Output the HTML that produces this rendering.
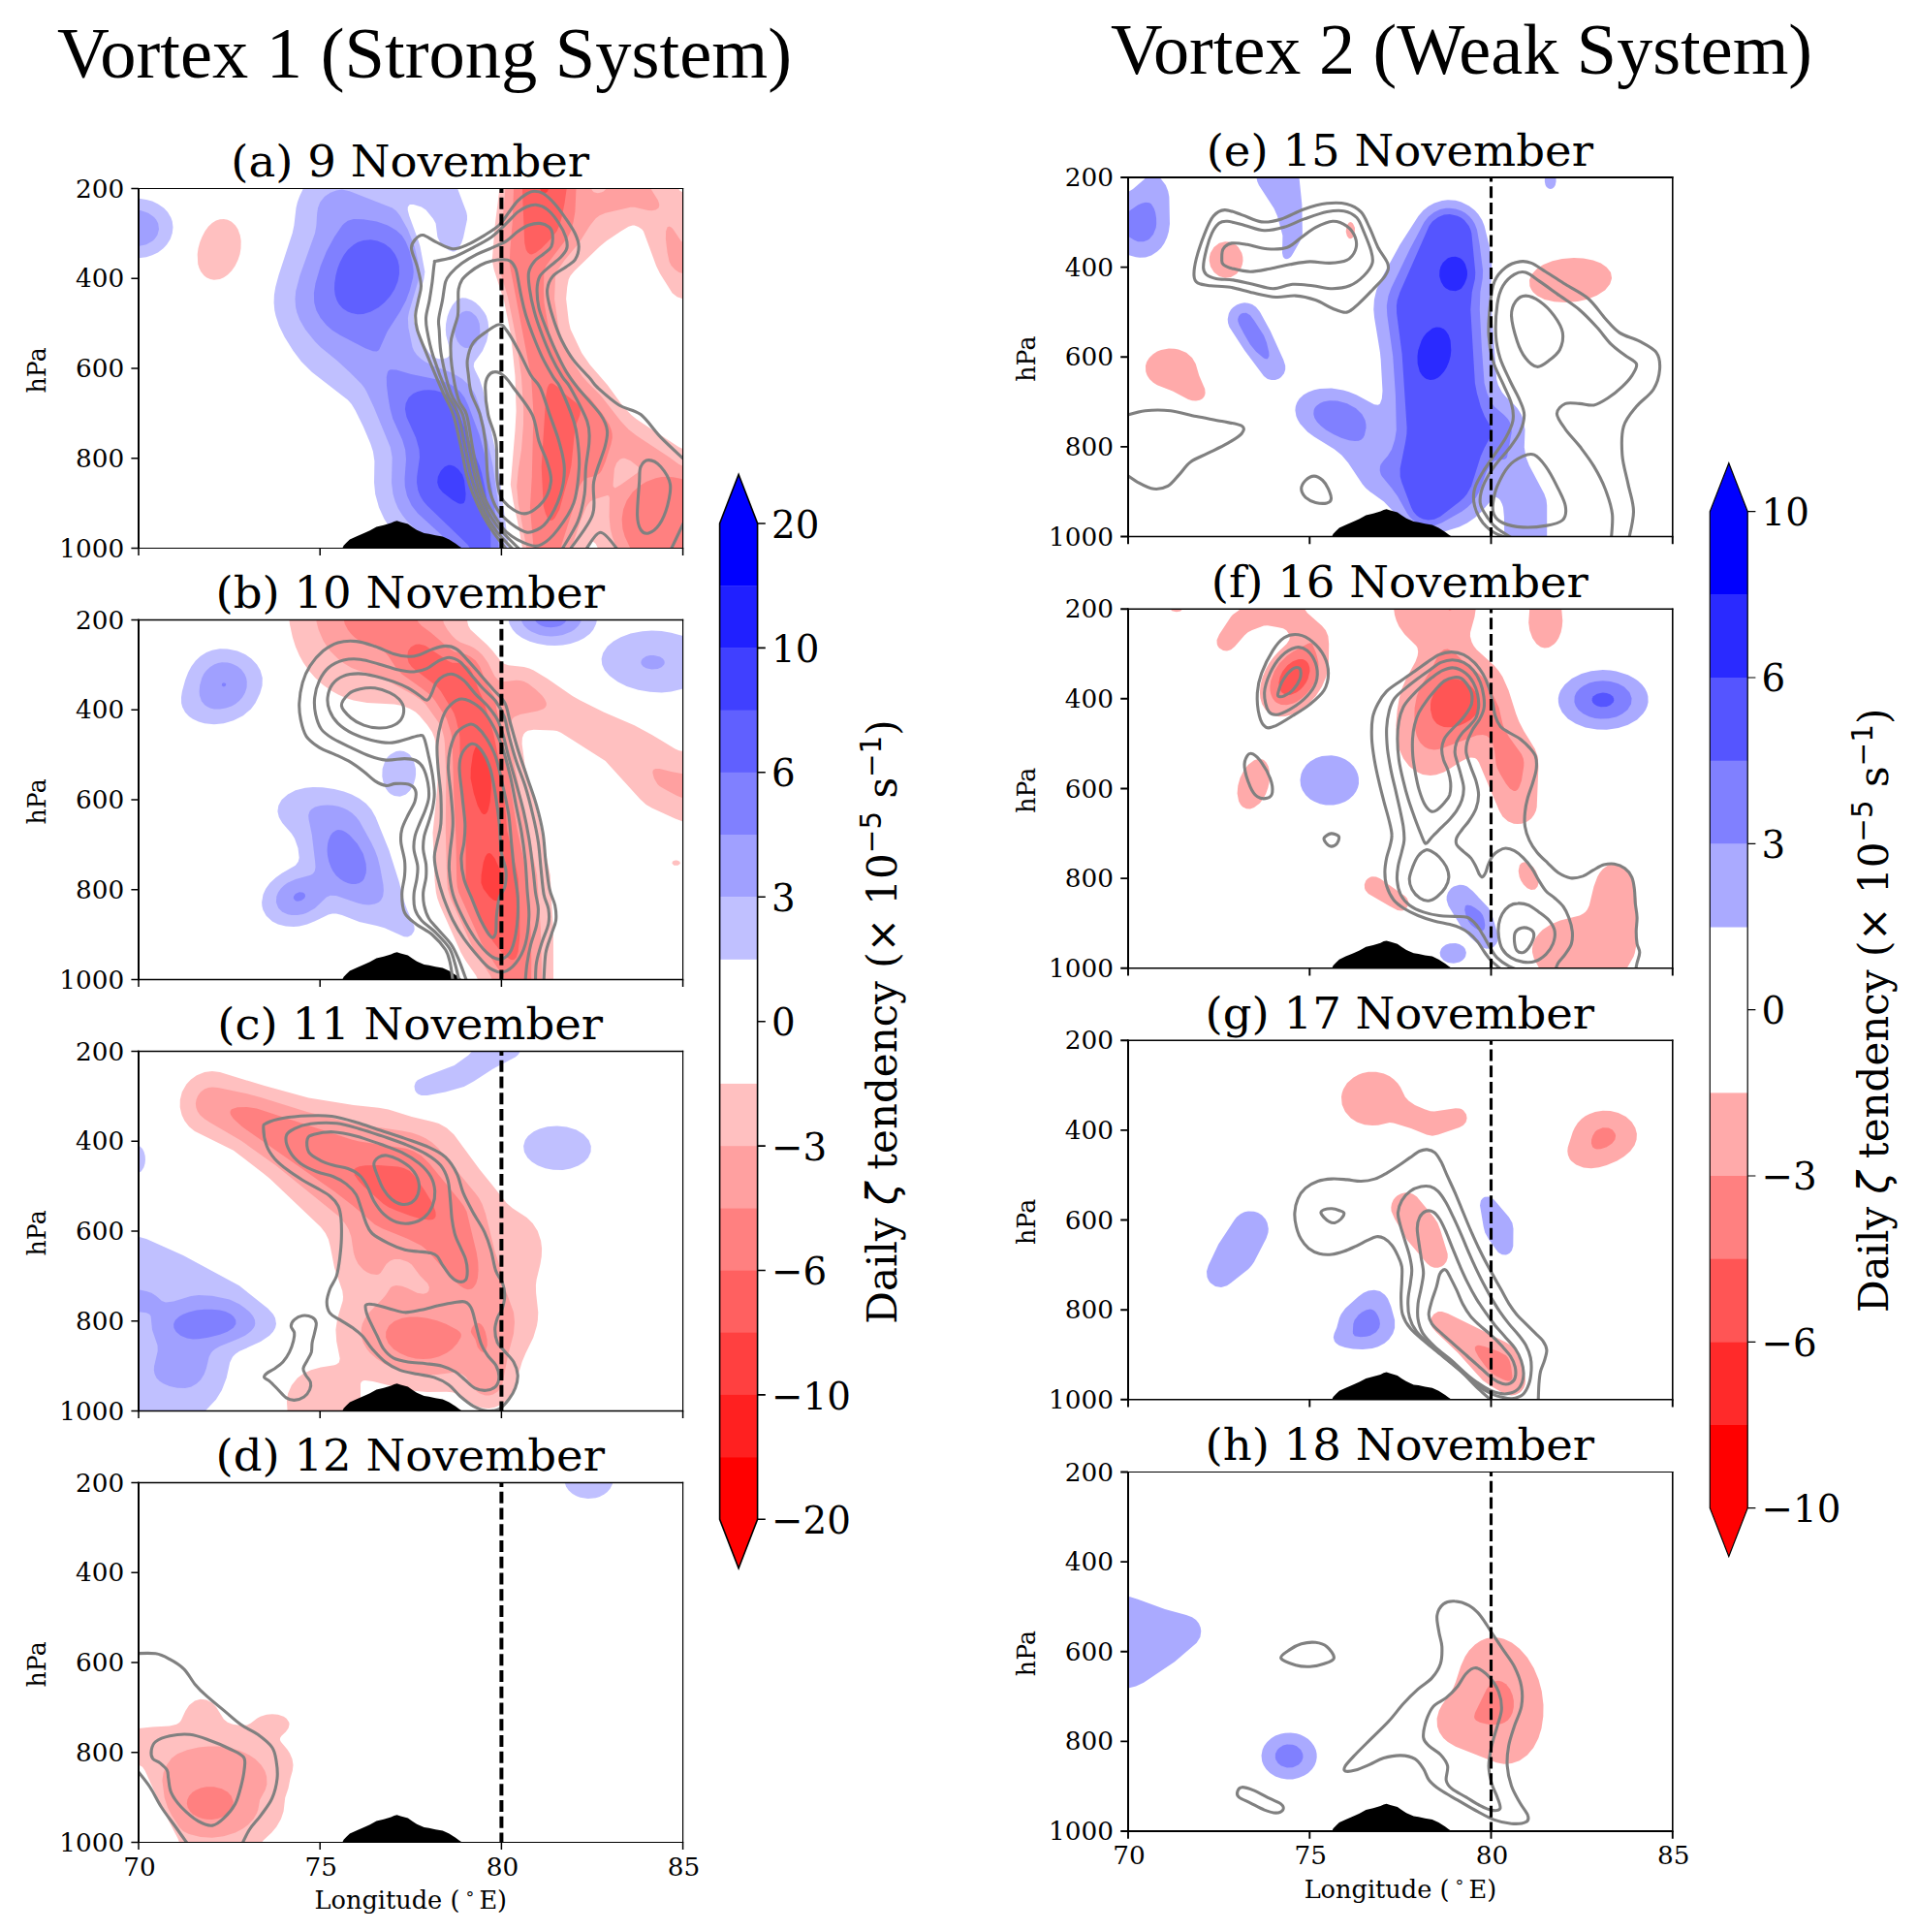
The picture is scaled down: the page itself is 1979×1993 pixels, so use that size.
<!DOCTYPE html>
<html lang="en"><head><meta charset="utf-8"><title>Vortex zeta tendency</title>
<style>html,body{margin:0;padding:0;background:#fff}svg{display:block}.ts{font-family:'DejaVu Serif','Liberation Serif',serif}.tn{font-family:'DejaVu Sans','Liberation Sans',sans-serif}.tt{font-family:'Liberation Serif','DejaVu Serif',serif}</style></head><body>
<svg width="1979" height="1993" viewBox="0 0 1979 1993">
<rect width="1979" height="1993" fill="#fff"/>
<text class="tt" x="438" y="80.1" font-size="74.5" text-anchor="middle">Vortex 1 (Strong System)</text>
<text class="tt" x="1508" y="76.3" font-size="74.2" text-anchor="middle">Vortex 2 (Weak System)</text>
<g id="pa">
<clipPath id="ca"><rect x="143" y="194.5" width="561.6" height="371"/></clipPath>
<g clip-path="url(#ca)">
<path d="M312.9 194.5L472.1 194.5L481.2 218.4L482 222.4L482 226.4L478.2 244.4L476.4 250.3L472.8 256.7L470.8 258.6L468.8 259.4L466.8 259.4L462.8 257.9L457.8 254.3L454.1 250.3L451.4 244.4L449.6 230.4L446.8 225.5L439.4 216.4L434.8 213.6L426.8 211.1L422.8 211.1L420.8 213.4L420.7 216.4L422.2 222.4L431.8 248.4L433.5 254.3L438.4 280.3L437.3 288.2L427.6 322.2L426.9 326.1L427 330.1L428.4 336.1L432.8 346.2L437.7 356.1L442.8 363.9L444.8 366.2L448.8 369L452.8 370.2L456.8 370.3L460.8 369.2L462.7 368L464.2 366L464.5 362L460.3 346.1L459.8 340.1L460.1 334.1L461.7 326.1L463.9 320.2L466.8 314.8L470.8 309.9L472.8 308.4L476.8 307.3L480.8 307.6L486.8 309.8L490.8 312.3L495.1 316.2L499.8 322.2L501.9 326.1L503.6 332.1L504.2 338.1L503.9 344.1L502.2 352.1L497.9 362L489.3 374L488.7 378L490.2 382L494.7 390.9L498.4 401.9L511.7 467.8L514.1 481.7L525 565.5L423.9 565.5L422.5 563.5L412.8 555.6L406.8 549.7L401.8 543.6L396.5 535.6L391 523.6L387.2 509.7L386 497.7L386.4 475.7L384.9 465.8L382.3 457.8L374.8 439.9L366.8 423.7L362.8 416.9L358.8 412.6L322 384L310.9 372.9L302.6 362L293.8 348.1L287.9 336.1L284.6 326.1L283.3 320.2L282.6 312.2L282.9 304.2L284.2 296.2L287.4 284.3L301.7 240.4L303.4 232.4L305.5 214.4L306.9 208.5L309.1 202.5ZM145 204.9L151 205.9L157 207.6L163.1 210.5L169 214.6L173 218.7L176.4 224.4L177.8 228.4L178.5 234.4L177.8 240.4L175.8 246.4L172.2 252.3L168.5 256.3L163 260.4L157 263.3L151 265.2L143 266.2L143 204.8Z" fill="#c0c0ff"/>
<path d="M346.9 196.5L352.9 195.5L360.8 197.2L404.8 214.5L408.8 217.6L412.8 222.5L420.8 236.8L427.7 254.3L431 268.3L432.9 280.3L432.7 284.3L431.4 290.2L421.9 322.2L420.9 328.1L421.4 338.1L425.5 358.1L427.2 362L430 366L434.2 370L438.8 373.3L446.8 377.3L466.8 384.7L476.8 390.7L484.8 398.3L488.6 403.9L490.7 407.9L494.7 419.2L498.7 433.7L508.8 481.7L515.5 529.6L519.7 565.5L451.4 565.5L448.2 561.5L426.2 543.6L420 537.6L415.2 531.6L410.8 524.4L407.8 517.6L405.5 509.7L404 497.7L404.7 471.8L402.8 461.6L385.7 419.9L378.2 403.9L375.9 399.9L372.8 396.1L360.8 384L347.8 372L330.9 358.2L324.9 352.3L315.1 340.1L309.3 330.1L306.3 322.2L305 316.2L304.5 308.2L305.2 300.2L309.4 284.3L325 240.4L326.4 232.4L327.1 220.4L328 214.4L330.3 208.5L334.9 202.7L340.9 198.7ZM145 217.1L153 219.7L159 223.9L161.1 226.4L163.2 230.4L164 236.4L162.4 242.4L159.6 246.4L157.6 248.4L151 252.3L143 254.1L143 216.9ZM476.8 322.1L480.8 320.8L484.8 321.3L486.8 322.2L491.1 326.1L493.4 330.1L494.8 334.1L495.4 342.1L493.6 350.1L491.4 354.1L489.6 356.1L484.8 358.8L480.8 359L478.8 358.5L475 356.1L472 352.1L469.6 346.1L468.8 338.1L469.8 332.1L472.8 325.8Z" fill="#a0a0ff"/>
<path d="M364.8 226.1L374.8 226.2L388.8 228.6L400.1 232.4L408.8 237.4L414.8 243.1L418.8 249.4L422.8 259.4L425.8 272.3L426.8 280.3L426.2 286.3L422.8 299.4L418.8 310.2L412.8 321.6L399.6 342.1L391.6 360.1L390.8 361.2L388.8 362.5L384.8 362.3L376.8 359.2L350.9 345.7L342.9 340.7L336.9 335.4L330.7 328.1L326.4 320.2L324.2 312.2L323.9 302.2L325.5 292.2L330.8 274.3L336.9 259.3L344.9 244.5L352.9 232.7L355.1 230.4L358.8 227.8ZM402.8 381.2L408.8 381.6L424.2 386L448.8 390.9L458.8 393.8L464.8 396.6L470.8 400.5L474.8 404.1L479.3 409.9L483.1 417.9L494.7 448.8L502.7 478.3L507.5 503.7L510.9 529.6L514.7 565.5L468.4 565.5L467.4 563.5L462.8 558.6L431 529.6L424.7 521.6L420 511.6L417.8 501.7L417.5 493.7L419 473.7L418.1 463.8L415.1 453.8L405.3 431.9L402.6 421.9L400.5 409.9L399 398L398.8 389.1L399.9 384L400.8 382.4Z" fill="#8080ff"/>
<path d="M374.8 248L382.8 247.3L389.4 248.4L396.8 251.5L402.8 256.1L407.6 262.3L410.4 268.3L411.8 274.3L412 282.3L410.5 290.2L407.2 298.2L402.8 305.2L396.8 311.9L390.8 316.9L382.8 321.5L374.8 323.9L368.8 324.2L362.8 323.1L358.8 321.6L353.7 318.2L350.1 314.2L347.7 310.2L345.7 304.2L345 298.2L345.2 292.2L346.4 284.3L348.5 276.3L350.9 270.3L354.8 263L358.8 257.8L364.8 252.5L368.8 250.1ZM430.8 403.9L436.8 402.5L442.8 402.2L448.8 402.8L454.8 404.4L460.8 407.3L464.3 409.9L468.1 413.9L470.8 418.1L481.5 447.8L494.5 479.7L497 487.7L500.7 505L504.9 529.6L506.3 551.5L506.2 565.5L485 565.5L482.2 561.5L440.7 521.6L436.8 517.1L433.5 511.6L431.3 505.7L430 497.7L430.2 491.7L433 471.8L432.5 463.8L429.2 451.8L419.4 429.9L417.9 421.9L418.7 415.9L421.8 409.9L426.3 405.9Z" fill="#6060ff"/>
<path d="M458.8 481.5L462.8 479.8L464.8 479.8L468.8 481.1L472.8 484L477.2 489.7L479.1 495.7L480.6 509.7L480.1 515.6L478.8 518.7L477.3 519.6L474.8 519.8L472.8 519.2L466.8 515.8L456.8 507.9L452.8 502.9L451.2 497.7L451.8 491.7L454.8 485.8Z" fill="#4040ff"/>
<path d="M516.7 194.5L700 194.5L701.3 196.5L704.6 198.6L704.6 308.2L698.6 306.3L693.6 302.2L681 282.3L677.1 274.3L663.9 238.4L662.3 236.4L658.6 233.9L654.6 232.5L652.6 232.4L648.6 233.8L640.7 238.4L625.8 248.4L618.8 254.3L592.7 279.5L588.7 284.3L586.7 288.2L585.2 296.2L584.1 308.2L586.9 332.1L588.7 339.8L600.2 364L608.7 376.2L626.7 396.9L642.6 418.7L651.3 427.9L656.6 432.3L664.7 437.8L700.6 461.3L704.6 463.1L704.6 565.5L616.9 565.5L614.7 561L612.7 559.2L610.7 558.8L608.7 559.5L606.7 561.6L604.9 565.5L539 565.5L534.7 541.6L529.6 517.6L526.8 499.7L531.5 443.8L532.6 423.9L531.5 388L528.7 360.4L526.8 344.1L520 310.2L509.7 278.3L507.8 268.3L510.7 232.4L515.4 194.5ZM226.9 226.3L230.9 226L234.9 226.7L238.9 228.7L242.9 232.4L245.5 236.4L247.7 242.4L248.7 248.4L248.5 256.3L247.5 262.3L245.5 268.3L242.6 274.3L238.9 279.6L234.9 283.6L230.9 286.3L226.9 288L220.9 288.8L216.9 288.1L213 286.2L210.5 284.3L207.3 280.3L205.4 276.3L204.2 272.3L203.7 262.3L204.5 256.3L206.1 250.3L208.4 244.4L211.5 238.4L214.9 233.8L218.9 230L222.9 227.6Z" fill="#ffc0c0"/>
<path d="M522.7 194.5L610.2 194.5L611.1 196.5L612.7 198.2L616.7 199.3L620.3 198.5L622.7 197.4L625.7 194.5L671.8 194.5L672.6 196.5L678.9 206.5L680.2 210.5L680.2 212.5L679.5 214.4L676.6 216.6L672.6 217.2L668.6 216.9L654.6 213.8L650.6 213.8L624.7 219.7L618.7 222.3L614.7 225.3L608.7 232.8L597.7 250.3L582.7 268.3L574.7 279.5L573.7 282.3L573 286.3L572.1 308.2L576 336.1L578 344.1L590.2 372L600.7 388L605.9 394L619.9 407.9L640.6 434.5L648.6 443L656.6 449.2L690.7 471.8L700.6 478.9L704.6 480.7L704.6 565.5L636.1 565.5L631.8 553.5L629.8 545.6L628.6 533.6L628.9 513.6L628.2 511.6L626.7 511.1L612.7 515.2L608.9 517.6L606.7 520.2L604.7 523.6L598.7 538.4L591.6 559.5L590.2 565.5L543.3 565.5L534.8 519.6L533.2 501.7L534.7 485.3L538 463.8L540 437.8L540.1 421.9L537.9 388L532.3 348.1L529.6 334.1L523.9 306.2L516.7 281.9L514.6 270.3L521.4 194.5ZM639.8 473.7L636.1 477.7L633.9 483.7L632.6 499.7L632.7 501.8L634.6 503.4L640.6 500L657.7 487.7L659.5 485.7L659.9 483.7L658.8 481.7L650.6 475.2L644.6 472.8L642.6 472.7ZM688.6 234.2L690.6 233.5L692.6 234.4L694.6 236.4L702.6 248.4L704.6 250.1L704.6 282.1L700.6 281L696.6 278.3L692.6 273.9L690.6 269.9L688.5 260.3L686.9 246.4L687.1 238.4Z" fill="#ffa0a0"/>
<path d="M530.7 194.5L594.5 194.5L593.4 218.4L591.7 228.4L589.1 238.4L586 244.4L566.3 270.3L563.5 274.3L561.8 278.3L561.3 282.3L561 300.2L561.5 312.2L567 344.1L580.8 378L586.8 388L592.6 396L596.7 400.4L608.7 410.7L621 425.9L628.5 437.8L630.9 443.8L631.7 447.8L631.8 451.8L630.6 457.8L624.7 476.2L620.7 485.6L618.7 488.2L614.7 491L606.7 492.8L602.7 494.8L600.7 496.9L597.9 501.7L594.7 510.7L590.4 527.6L579.6 561.5L578.8 565.5L550.5 565.5L546.9 523.6L548.8 491.7L550.4 425.9L548.2 390L525.7 272.3L526.3 258.3L528.8 228.4L530 194.5ZM676.6 493.2L682.6 492.1L688.6 491.8L694.6 492.3L704.6 494.2L704.6 565.5L650.3 565.5L644.7 553.5L642.4 545.6L641.6 535.6L643.1 525.6L646.6 516.5L652.6 507.8L659.2 501.7L666.6 497Z" fill="#ff8080"/>
<path d="M540.7 194.5L584.7 194.5L582.7 208.7L580 222.4L577.3 232.4L574.7 238.2L568.7 245.9L558.7 256.2L552.7 260.8L548.7 262.4L546.7 262.2L544.3 260.3L542.7 257.4L541.2 250.3L539.1 200.5L539.1 194.5ZM568.7 395.3L570.7 395.7L574.7 398.4L584.8 407.9L595 415.9L598 419.9L599 423.9L598.4 427.9L594.7 437.6L593.2 443.8L589.5 479.7L587.9 487.7L577.3 525.6L572.7 534.1L570.7 536.2L568.7 537.1L566.7 536.4L564.7 533.9L562.7 529.3L560.7 521.9L558.7 481.7L563.3 407.9L564.7 399.9L566.7 396.3Z" fill="#ff6060"/>
<path d="M558.7 194.5L566.3 194.5L564.7 197.7L562.7 199.2L560.7 199.4L558.7 198L557.9 196.5L557.2 194.5Z" fill="#ff4040"/>
<path d="M353.3 565.5L354.6 562.8L357.5 559.8L360.9 556.5L367.5 553.4L375 550.2L381.7 547.3L388.4 543.6L395.9 541.7L403.4 539.6L406.7 537.9L409.6 537.3L413.4 538.4L420.9 540.6L425.1 543.6L430.1 546.7L437.6 550.1L442.6 550.7L449.3 552.3L456.8 553.4L463.4 556.5L470.1 560.7L473.4 563.2L476.8 565.5" fill="#000"/>
<path d="M522.9 567.2C520.6 564.2 513.2 555.2 509.1 549.2C504.9 543.2 501.5 537.7 498 531.3C494.6 524.8 491.1 517.4 488.4 510.5C485.6 503.6 483.5 497.9 481.4 489.8C479.4 481.7 478.2 472.5 475.9 462.2C473.6 451.8 470.7 437.1 467.6 427.6C464.6 418.2 461.8 415.7 457.4 405.6C453 395.6 445.6 378.2 441.2 367.3C436.7 356.5 432.7 347.5 430.6 340.5C428.6 333.5 428.6 330.3 428.7 325.2C428.9 320.1 430.6 315 431.6 309.9C432.5 304.8 434.6 300.3 434.5 294.6C434.3 288.8 432.3 281.8 430.6 275.4C429 269 424.8 261.1 424.5 256.3C424.2 251.5 426.7 249 428.7 246.7C430.7 244.4 432.9 242 436.4 242.5C439.9 243 444.7 247.2 449.8 249.6C454.9 251.9 461.6 256.2 467 256.7C472.4 257.1 476.9 254.7 482.3 252.4C487.8 250.1 494.1 246.2 499.6 242.9C505 239.5 510.7 236.2 514.9 232.3C519 228.5 521.3 224 524.4 219.9C527.6 215.7 530.8 210.8 534 207.4C537.2 204.1 540.7 201.5 543.6 199.8C546.5 198.1 548.4 197.3 551.3 197.3C554.1 197.3 557.3 197.6 560.8 199.8C564.3 202 568.5 206 572.3 210.3C576.1 214.6 580.3 220.5 583.8 225.6C587.3 230.7 591.1 236.2 593.4 241C595.6 245.7 597.2 249.9 597.2 254.4C597.2 258.8 595.6 264.2 593.4 267.8C591.1 271.3 587.6 272.5 583.8 275.4C580 278.3 573.6 281.2 570.4 285C567.2 288.8 565.3 293.6 564.7 298.4C564 303.2 565.3 308 566.6 313.7C567.8 319.4 570.1 326.5 572.3 332.9C574.5 339.2 576.8 345.6 580 352C583.2 358.4 586.7 364.8 591.5 371.1C596.2 377.5 604.5 385.5 608.7 390.3C612.9 395.1 611.8 395.4 616.8 400C621.9 404.6 631.6 413.4 638.9 418C646.3 422.6 653.9 422.1 661.1 427.6C668.2 433.2 674.2 443.3 681.8 451.1C689.4 458.9 702.5 470.7 706.6 474.6" fill="none" stroke="#808080" stroke-width="3.1" stroke-linejoin="round"/>
<path d="M529.8 567.2C527 564.2 517.8 555 513.2 549.2C508.6 543.5 505.5 538.6 502.2 532.6C498.8 526.6 496 520.4 493.2 513.3C490.4 506.2 487.8 498.3 485.6 489.8C483.4 481.3 482.3 472.5 480.1 462.2C477.9 451.8 475.6 437.1 472.5 427.6C469.3 418.2 465.5 415.7 461.3 405.6C457 395.6 450.4 378.2 446.9 367.3C443.5 356.5 441.8 347.2 440.6 340.5C439.4 333.8 439.2 332.2 439.6 327.1C440 322 442 315.9 443.1 309.9C444.1 303.8 445.1 297.1 446 290.7C446.8 284.3 447.5 275.2 448.2 271.6C449 268 447 270.3 450.2 269.3C453.3 268.3 461 267.6 467 265.5C473 263.3 479.5 259.8 486.2 256.3C492.9 252.8 501.2 248.7 507.2 244.4C513.3 240.1 518.1 234.7 522.5 230.4C527 226.2 530.5 221.8 534 218.9C537.5 216.1 540.4 214.5 543.6 213.2C546.8 211.9 549.7 210.8 553.2 211.3C556.7 211.8 560.8 213 564.7 216.1C568.5 219.1 573 224.7 576.1 229.5C579.3 234.2 582.4 240.3 583.8 244.8C585.2 249.2 585.7 252.8 584.8 256.3C583.8 259.8 581.1 262.6 578.1 265.8C575 269 570.1 272.2 566.6 275.4C563.1 278.6 559.1 281.2 557 285C554.9 288.8 554.3 293 554.1 298.4C554 303.8 554.6 311.2 556 317.5C557.5 323.9 560 329.7 562.7 336.7C565.5 343.7 568.8 352 572.3 359.7C575.8 367.3 579.8 375.9 583.8 382.6C587.8 389.4 590.2 392.5 596.1 400C602.1 407.5 614.5 420.3 619.6 427.6C624.7 435 625.8 438.5 626.5 444.2C627.2 450 626.1 453.4 623.8 462.2C621.4 470.9 614.8 485.2 612.7 496.7C610.6 508.2 615.5 519.5 611.3 531.3C607.2 543 591.7 561.2 587.8 567.2" fill="none" stroke="#808080" stroke-width="3.1" stroke-linejoin="round"/>
<path d="M536.7 567.2C533.5 563.9 522.4 553.6 517.4 547.8C512.3 542.1 509.8 538.4 506.3 532.6C502.9 526.9 499.4 520.4 496.6 513.3C493.9 506.2 491.8 498.3 489.7 489.8C487.7 481.3 486.3 472.5 484.2 462.2C482.1 451.8 480.5 437.1 477.3 427.6C474.1 418.2 468.7 415.7 465.1 405.6C461.5 395.6 457.5 378.2 455.5 367.3C453.5 356.5 453.7 346.9 453.2 340.5C452.7 334.1 452.1 334.1 452.7 329C453.2 323.9 455.3 316.3 456.5 309.9C457.7 303.5 458.3 295.4 459.7 290.7C461.2 286.1 462.3 285.3 465.1 282.1C467.9 278.9 472.1 274.9 476.6 271.6C481.1 268.3 486.8 265 491.9 262.4C497 259.8 502.1 258.2 507.2 255.9C512.3 253.6 518.1 251.4 522.5 248.6C527 245.8 530.2 241.7 534 239C537.9 236.3 541.7 233.8 545.5 232.3C549.3 230.9 553.5 230.1 557 230.4C560.5 230.7 564.4 232.5 566.6 234.2C568.7 236 569.6 237.6 570 241C570.4 244.3 570.4 250.8 568.9 254.4C567.3 257.9 563.8 259.5 560.8 262C557.9 264.6 553.8 266.5 551.3 269.7C548.7 272.9 546.3 276.4 545.5 281.2C544.7 285.9 545.5 291.7 546.5 298.4C547.4 305.1 549.2 313.7 551.3 321.4C553.3 329 556 336.7 558.9 344.3C561.8 352 565 360 568.5 367.3C572 374.7 576.6 382.9 580 388.4C583.3 393.8 584.2 392.3 588.5 400C592.8 407.7 602.6 425.3 605.8 434.5C609 443.8 608.1 447.2 607.9 455.3C607.6 463.3 605.2 473.7 604.4 482.9C603.6 492.1 604.4 501.3 603 510.5C601.6 519.7 600 528.7 596.1 538.2C592.2 547.6 582.3 562.3 579.5 567.2" fill="none" stroke="#808080" stroke-width="3.1" stroke-linejoin="round"/>
<path d="M481.4 427.6C483.9 436.1 485.7 451.8 487.7 462.2C489.6 472.5 491.1 481.3 493.2 489.8C495.3 498.3 497.3 506.4 500.1 513.3C502.9 520.2 506 525.3 509.8 531.3C513.6 537.2 517 544.1 522.9 549.2C528.8 554.3 539 559.6 545 561.6C551 563.7 553.8 564.2 558.8 561.6C563.9 559.1 569.9 553.6 575.4 546.4C580.9 539.3 588.3 529.4 592 518.8C595.7 508.2 596.8 493.5 597.5 482.9C598.2 472.3 597 463.3 596.1 455.3C595.2 447.2 595 443.8 592 434.5C589 425.3 581.8 407.7 578.2 400C574.6 392.3 573.6 393.8 570.4 388.4C567.2 382.9 562.4 374.7 558.9 367.3C555.4 360 552.1 351.4 549.3 344.3C546.6 337.3 544.6 331.6 542.6 325.2C540.7 318.8 539.1 311.8 537.9 306C536.6 300.3 535.9 295.5 535 290.7C534 285.9 533.5 280.9 532.1 277.3C530.7 273.8 528.6 270.9 526.4 269.3C524.1 267.7 521.9 267.8 518.7 267.8C515.5 267.8 511 268.3 507.2 269.3C503.4 270.2 499.6 271.5 495.7 273.5C491.9 275.5 487.4 278.6 484.2 281.2C481.1 283.7 478.4 285.9 476.6 288.8C474.7 291.7 473.8 294.9 473.1 298.4C472.5 301.9 472.9 305.4 472.8 309.9C472.6 314.3 473.2 320.1 472.4 325.2C471.6 330.3 469.2 335.7 468 340.5C466.8 345.3 465.4 347.8 465.1 353.9C464.8 360 464.8 367.3 466.1 376.9C467.3 386.5 470.2 402.9 472.8 411.4C475.3 419.8 479 419.2 481.4 427.6Z" fill="none" stroke="#808080" stroke-width="3.1" stroke-linejoin="round"/>
<path d="M495.3 427.6C497.7 435.9 499.4 443.8 500.8 455.3C502.2 466.8 502.2 486.3 503.6 496.7C504.9 507.1 506.8 511.7 509.1 517.4C511.4 523.2 512.8 526.4 517.4 531.3C522 536.1 531.4 543.6 536.7 546.4C542 549.3 544.5 549.9 549.1 548.5C553.8 547.1 559.5 544.5 564.3 538.2C569.2 531.8 575.2 519.7 578.2 510.5C581.2 501.3 582.5 492.1 582.3 482.9C582.1 473.7 579.3 464.5 576.8 455.3C574.2 446.1 570.3 436.8 567.1 427.6C563.9 418.4 560.7 406.9 557.4 400C554.2 393.1 551.3 393.2 547.4 386.5C543.5 379.7 538.2 367.3 534 359.7C529.9 352 525.7 344.7 522.5 340.5C519.3 336.4 518.4 334.4 514.9 334.8C511.4 335.1 505.9 339.2 501.5 342.4C497 345.6 491.3 349.1 488.1 353.9C484.9 358.7 483.1 365.7 482.3 371.1C481.5 376.6 482.6 380.7 483.3 386.5C483.9 392.2 484.2 398.7 486.2 405.6C488.2 412.5 492.8 419.4 495.3 427.6Z" fill="none" stroke="#808080" stroke-width="3.1" stroke-linejoin="round"/>
<path d="M503.6 427.6C505.4 436.8 510.2 443.8 511.8 455.3C513.5 466.8 511.8 486.3 513.2 496.7C514.6 507.1 515.5 511.9 520.1 517.4C524.7 523 534.2 529.9 540.9 529.9C547.5 529.9 555.6 523 560.2 517.4C564.8 511.9 567.8 503.6 568.5 496.7C569.2 489.8 566.4 482.9 564.3 476C562.3 469.1 558.6 463.3 556.1 455.3C553.5 447.2 553.5 436.8 549.1 427.6C544.8 418.4 534.6 406.5 529.8 400C525 393.5 523.7 391.1 520.6 388.4C517.5 385.6 513.9 383.6 511 383.6C508.2 383.6 505.1 385.6 503.4 388.4C501.7 391.1 500.7 393.5 500.7 400.1C500.7 406.6 501.7 418.4 503.6 427.6Z" fill="none" stroke="#808080" stroke-width="3.1" stroke-linejoin="round"/>
<path d="M669.3 474.6C672.8 474.6 678.1 477.4 681.8 481.5C685.5 485.7 690.3 492.8 691.5 499.5C692.6 506.2 690.5 514.7 688.7 521.6C686.8 528.5 683.6 536.2 680.4 540.9C677.2 545.6 672.6 549 669.3 549.9C666.1 550.8 663 549.6 661.1 546.4C659.1 543.3 657.8 539.5 657.6 531.3C657.4 523 659.1 505 659.7 496.7C660.2 488.4 659.4 485.2 661.1 481.5C662.7 477.8 665.9 474.6 669.3 474.6Z" fill="none" stroke="#808080" stroke-width="3.1" stroke-linejoin="round"/>
<path d="M604.4 567.2C606.9 564.2 614.1 549.2 619.6 549.2C625.1 549.2 634.6 564.2 637.6 567.2" fill="none" stroke="#808080" stroke-width="3.1" stroke-linejoin="round"/>
<path d="M706.6 536.8C704.2 541.8 694.6 562.1 692.1 567.2" fill="none" stroke="#808080" stroke-width="3.1" stroke-linejoin="round"/>
<path d="M517.4 194.5V565.5" stroke="#000" stroke-width="4.0" stroke-dasharray="12 4.75" stroke-dashoffset="7.6" fill="none"/>
</g>
<path d="M143 193.9V566.1" stroke="#000" stroke-width="2.0"/>
<path d="M704.6 193.9V566.1" stroke="#000" stroke-width="1.2"/>
<path d="M142 194.5H705.2" stroke="#000" stroke-width="1.2"/>
<path d="M142 565.5H705.2" stroke="#000" stroke-width="1.2"/>
<path d="M135.4 194.5h7.6M135.4 287.2h7.6M135.4 380h7.6M135.4 472.8h7.6M135.4 565.5h7.6M143 565.5v7.6M330.2 565.5v7.6M517.4 565.5v7.6M704.6 565.5v7.6" stroke="#000" stroke-width="1.5" fill="none"/>
<text class="ts" x="128.2" y="203.5" font-size="26.3" text-anchor="end">200</text>
<text class="ts" x="128.2" y="296.2" font-size="26.3" text-anchor="end">400</text>
<text class="ts" x="128.2" y="389" font-size="26.3" text-anchor="end">600</text>
<text class="ts" x="128.2" y="481.8" font-size="26.3" text-anchor="end">800</text>
<text class="ts" x="128.2" y="574.5" font-size="26.3" text-anchor="end">1000</text>
<text class="ts" font-size="25.3" text-anchor="middle" transform="translate(47 381.8) rotate(-90)">hPa</text>
<text class="ts" font-size="45.5" text-anchor="middle" transform="translate(423.2 182.1) scale(1.024 1)">(a) 9 November</text>
</g>
<g id="pb">
<clipPath id="cb"><rect x="143" y="639.5" width="561.6" height="371"/></clipPath>
<g clip-path="url(#cb)">
<path d="M524.7 639.5L615.9 639.5L615.1 643.5L612.2 649.5L608.7 653.7L602.7 658.3L596.7 661.3L588.7 664L580.7 665.5L572.7 666.1L564.7 665.7L554.7 664.1L546.7 661.8L538.7 658.1L532.7 653.8L528.9 649.5L525.5 643.5ZM662.6 651.3L672.6 650.6L682.6 651.1L692.6 652.8L704.6 656L704.6 710.6L692.6 713.4L682.6 714.4L670.6 713.8L658.6 711.7L646.6 707.9L637.3 703.3L629.1 697.3L623.9 691.4L621.2 685.4L620.6 679.4L622.2 673.4L626.7 666.8L633 661.4L640.6 657.2L650.6 653.6ZM226.9 669.2L234.9 669.4L244.9 671.6L252.9 675L259.4 679.4L265.1 685.4L268.6 691.4L270.8 699.3L270.6 707.3L268.3 715.3L263.5 725.3L258.9 731.4L250.9 738.2L240.9 743.3L230.9 746.2L220.9 747.2L211 746.2L205 744.6L199 741.8L195 739L191 734.7L188.1 729.3L187.1 725.3L187 719.3L187.9 713.3L191.2 701.3L194.2 693.4L197.4 687.4L201.9 681.4L207 676.8L213 673.1L218.9 670.7ZM408.8 774.9L412.8 774.4L416.8 774.9L420.8 776.9L422.8 778.5L426.8 784.5L429 793.1L429.1 799.1L428.5 803.1L426.8 808.8L424.8 812.8L422.8 815.7L418.8 819.4L412.8 821.7L406.8 821.1L402.9 819L400.7 817L397.8 813L396 809L394.3 801.1L394.6 793.1L397.3 785.1L399.9 781.1L402.8 778.2ZM314.9 812.7L322.9 811.9L332.9 812.2L344.9 814L354.8 816.6L362.8 819.6L370.8 823.7L377.8 829L383.1 835L387.6 843L401.4 876.9L411.5 908.8L417.3 930.7L420.2 938.7L427.3 954.7L427.7 958.6L427.3 960.6L424.7 964.6L420.8 966.4L416.8 966.3L396.8 957.2L388.8 954.9L370.8 951.1L352.9 944.1L346.9 942.4L342.9 942.4L338.9 943.4L324.9 950.3L316.9 953.5L308.9 955.4L302.9 955.9L294.9 955.5L286.9 953.4L280.9 950.4L274.7 944.7L271.4 938.7L270.4 934.7L270.1 930.7L271.5 922.7L274.2 916.8L278.6 910.8L284.9 904.9L290.9 900.8L304.8 892.8L307.8 888.8L308.7 884.8L307.5 874.9L304 864.9L300.9 860L291.3 848.9L287.8 843L286.4 837L287.3 831L290.6 825L296.9 819.4L304.9 815.3Z" fill="#c0c0ff"/>
<path d="M538.7 639.5L599.8 639.5L599.3 641.5L596.8 645.5L592.7 649.4L589.5 651.5L580.7 655L574.7 656.1L568.7 656.5L562.7 656.1L556.7 654.9L548.1 651.5L544.7 649.3L540.7 645.5L538.4 641.5L537.9 639.5ZM666.6 677.1L670.6 676.1L674.6 675.9L681 677.4L683.9 679.4L685.4 681.4L685.8 683.4L685.3 685.4L682.6 688.2L678.6 690L672.6 690.5L666.6 689.2L663.6 687.4L661.9 685.4L661.3 683.4L661.7 681.4L663 679.4ZM228.9 683.3L234.9 683.4L238.9 684.4L244.9 687.3L248.9 690.6L252.4 695.3L254.1 699.3L254.8 703.3L254.6 709.3L252.9 714.6L250.2 719.3L246.9 723L242.9 726.2L238.9 728.5L232.9 730.6L226.9 731.6L220.9 731.4L216.9 730.4L213 728.5L211 727.1L207.9 723.3L205.9 717.3L205.6 713.3L206.1 707.3L208.3 699.3L210.2 695.3L213.1 691.4L216.9 687.9L220.9 685.5L224.9 684ZM330.9 830.9L336.9 830.4L342.9 830.7L348.9 831.8L354.8 833.7L358.8 835.7L363.6 839L367.7 843L370.8 847.1L383 868.9L386.8 876.9L389.7 884.8L392.2 894.8L395.5 912.8L395.9 918.7L395.1 924.7L393 928.7L390.8 930.8L386.8 932.6L380.8 933.4L374.8 932.9L368.8 931.5L346.9 924L340.9 923.7L336.9 925.6L324.9 936.9L316.9 941.5L312.9 943L306.9 944.1L300.9 944L296.9 943.2L291.3 940.7L287.2 936.7L284.9 930.7L285.3 924.7L286.9 920.7L289.6 916.8L292.9 913.4L296.6 910.8L304.9 906.9L320.3 902.8L322.9 901.3L324.7 898.8L325.5 894.8L325.1 888.8L321.8 860.9L318.5 844.9L318.2 841L319.5 837L321.2 835L324.9 832.6Z" fill="#a0a0ff"/>
<path d="M552.7 639.5L584.7 639.5L582.7 642.5L578.7 645.2L574.7 646.5L568.7 647.3L562.7 646.7L558.7 645.5L555.2 643.5L553.1 641.5L552.1 639.5ZM230.9 704.2L233.2 705.3L233.1 707.3L230.9 708.5L228.8 707.3L229 705.3ZM346.9 856.5L348.9 856.1L352.9 856.5L356.8 858.4L360.8 861.4L368.8 870.4L374.8 880.8L377.6 890.8L378 896.8L377.7 900.8L375.6 906.8L374.1 908.8L370.8 911.1L366.8 912.1L362.8 911.9L358.8 911L354.8 909.3L350.9 906.8L346.9 903.2L343.6 898.8L341.5 894.8L339.3 888.8L338 882.8L337.5 876.9L338 870.9L338.9 866.9L340.9 862L343.1 858.9ZM308.9 920.3L313 920.7L314.9 922.7L314.9 925.1L314 926.7L310.9 929.1L306.9 929.8L304.9 929.2L302.9 927L302.9 924.7L304.9 922.1Z" fill="#8080ff"/>
<path d="M298.9 639.5L481.9 639.5L483.2 645.5L485.5 649.5L502.7 665.2L508.4 671.4L516.7 681.9L520.7 685L524.7 686.3L540.7 687.9L546.1 689.4L550.6 691.4L564.7 700L590.7 717.9L598.7 722.5L622.7 734.4L654.6 748.2L672.6 757.9L696.6 772.5L700.6 774.3L704.6 775.1L704.6 847.5L696.6 844.5L672.6 833.4L666.6 829.9L660.6 824.6L624.7 784.9L578.7 755.7L574.7 754.1L570.7 753.5L550.7 752.7L544.7 753.8L542.2 755.2L540.4 757.2L538.9 761.2L538.6 767.2L541.5 789.1L556.4 846.9L567.7 902.8L570.9 960.6L571 1010.5L493 1010.5L491.2 1006.5L480.1 990.6L475.5 982.6L454.2 934.7L451.3 926.7L449.9 920.7L448.6 908.8L446.5 858.9L451 815L451.9 797.1L449.6 767.2L448.3 761.2L445.9 755.2L440.8 747.7L432.8 738.2L428.8 734.5L422.8 731.1L414.8 728.1L406.8 726.5L378.8 725.1L364.8 722.6L356.8 720L348.9 716.4L340.9 711.9L332.9 706.2L325.3 699.3L318.9 692L312.9 683.5L308.9 676.3L304.9 666.9L301.9 657.5L298.9 643.7L298.4 639.5ZM694.6 888.3L696.6 887.6L698.6 887.6L701.3 888.8L702 890.8L699.4 892.8L695.5 892.8L693.4 890.8L693.9 888.8Z" fill="#ffc0c0"/>
<path d="M326.9 639.5L457 639.5L458.2 643.5L461.6 649.5L466.3 655.5L470.3 659.4L474.8 662.6L484.8 666.3L488.8 668.3L493.3 671.4L497.6 675.4L503.4 683.4L510.3 697.3L513.9 701.3L516.7 702.8L518.7 703.2L532.7 701.8L536.7 702L540.7 703L545.1 705.3L552.8 711.3L559.1 717.3L562.1 721.3L563.8 725.3L563.8 727.3L563 729.3L560.8 731.3L554.7 733.6L536.7 736.9L530.7 739.5L528.7 741.5L527.1 745.2L526.3 753.2L527.2 765.2L531.7 793.1L554.1 902.8L557.9 958.6L559.4 1010.5L507.7 1010.5L506 1006.5L488.1 978.6L464.7 926.7L461.9 916.8L461.1 906.8L459.8 856.9L460.3 801.1L458.9 767.2L458.3 761.2L456.8 755.5L454.8 749.6L452.5 745.2L438.8 726L434.8 722.5L426.8 717.1L394.8 699.5L386.8 696.5L370.8 692.1L362.8 688.9L354.8 684.3L348.9 679.8L340.6 671.4L333.8 661.4L328.6 649.5L326.6 641.5L326.4 639.5ZM676.6 792.9L680.6 793L692.6 796L704.6 798.2L704.6 823.2L698.8 821L687.4 815L680.6 811L678.5 809L674.9 803.1L673.3 797.1L673.7 795.1L674.6 793.8Z" fill="#ffa0a0"/>
<path d="M354.8 639.5L430.6 639.5L431.4 641.5L435 645.5L444.8 652.8L462.8 668.3L468.8 672.2L480.8 675.1L485.6 677.4L490.8 681.4L495 687.4L503 707.3L509.3 717.3L510.9 721.3L512.3 731.3L516.7 751.2L524.6 797.1L533.5 854.9L543.8 902.8L547.6 960.6L548.3 990.6L548.2 1010.5L520.6 1010.5L518.8 1006.5L500.7 979.5L496.7 972.7L473.3 920.7L471.8 914.8L471.2 908.8L470.3 860.9L468.2 819L466.6 763.2L465.2 755.2L460.7 741.2L449.2 723.3L444.4 717.3L434.8 709.7L414.4 695.3L409 689.4L400.8 677L396.8 672.5L390.8 668.9L374.8 663.3L370.8 661.1L365.9 657.5L361.9 653.5L358.8 649.4L355.7 643.5Z" fill="#ff8080"/>
<path d="M428.8 664.8L432.8 664.4L438.8 665.9L462.8 681.9L466.8 683.7L474.8 684.1L478.8 685.1L482.6 687.4L484.6 689.4L487 693.4L494.6 713.3L498.4 721.3L506.7 747.5L509.3 757.2L517.4 797.1L520.4 823L523.3 856.9L532.9 896.8L534.8 906.8L536.3 940.7L536.3 966.6L534.7 981.7L532.7 987.5L530.7 989.7L528.7 990.2L526.7 989.8L522.7 987.3L516.7 981.4L508.7 971.2L504.7 964.5L494.7 944.9L484.8 924L481.9 916.8L481 912.8L480.6 906.8L480.6 860.9L476.9 829L474.6 803.1L474.5 761.2L473.7 755.2L470.3 741.2L468.2 735.2L454.8 713.1L451.6 709.3L446.8 705L426.6 689.4L424.4 687.4L421.6 683.4L420.1 677.4L421.1 671.4L423.9 667.4Z" fill="#ff6060"/>
<path d="M492.8 769.1L494.7 769.7L496.7 771.8L498.7 775.2L502.7 785.1L506.7 799.3L506.9 813L505.7 827L503.9 835L502.7 837.9L500.7 840L498.7 839.9L496.7 838.3L492.8 830.9L488.8 818.2L485.6 803.1L485.8 793.1L487.8 779.1L488.8 775.2L490.5 771.1ZM502.7 880.7L504.7 879.9L506.7 880.7L510.7 885.7L516.7 898.9L519.2 906.8L519.1 914.8L517.4 922.7L514.7 928.1L512.7 929.2L510.7 929.1L508.7 928.2L504.7 924.7L498.7 916.8L496.4 910.8L496.6 902.8L498.7 889.8L500.7 883.7Z" fill="#ff4040"/>
<path d="M353.3 1010.5L354.6 1007.8L357.5 1004.8L360.9 1001.5L367.5 998.4L375 995.2L381.7 992.3L388.4 988.6L395.9 986.7L403.4 984.6L406.7 982.9L409.6 982.3L413.4 983.4L420.9 985.6L425.1 988.6L430.1 991.7L437.6 995.1L442.6 995.7L449.3 997.3L456.8 998.4L463.4 1001.5L470.1 1005.7L473.4 1008.2L476.8 1010.5" fill="#000"/>
<path d="M467.3 1012.3C466.8 1009.2 465.7 998.6 464.4 993.2C463.2 987.8 462.7 984.6 459.7 979.8C456.6 975 451.4 969 446.3 964.5C441.1 960 433.8 956.8 429 953C424.2 949.2 419.9 946.6 417.5 941.5C415.1 936.4 414.7 928.7 414.7 922.4C414.7 916 417.1 909 417.5 903.2C418 897.5 418.2 893.6 417.5 887.9C416.9 882.2 414.2 874.2 413.7 868.8C413.2 863.3 413.4 860.1 414.7 855.4C415.9 850.6 419.1 844.8 421.4 840C423.6 835.2 426.9 830.8 428.1 826.6C429.3 822.5 429.8 818.1 428.6 815.1C427.5 812.2 424.8 810.1 421.4 809C417.9 807.9 411.8 808.2 408 808.4C404.1 808.7 401.9 810.8 398.4 810.4C394.9 809.9 390.7 808 386.9 805.6C383.1 803.2 379.6 799.2 375.4 796C371.3 792.8 366.8 789.3 362 786.4C357.2 783.6 352.1 781.3 346.7 778.8C341.3 776.2 334.6 774.3 329.5 771.1C324.4 767.9 319.3 764.4 316.1 759.6C312.9 754.8 311.5 748.1 310.3 742.4C309.1 736.6 308.5 731.5 308.8 725.2C309.1 718.8 310.4 710.5 312.2 704.1C314.1 697.7 316.4 692.3 319.9 686.9C323.4 681.4 328.5 675.5 333.3 671.5C338.1 667.6 342.9 664.6 348.6 662.9C354.4 661.3 361.4 661 367.8 661.6C374.1 662.2 380.5 664.6 386.9 666.8C393.3 668.9 400.3 672.7 406 674.4C411.8 676.2 416.9 677.1 421.4 677.3C425.8 677.5 428.7 676.7 432.9 675.4C437 674.1 441.8 671.1 446.3 669.6C450.7 668.1 455.5 666.4 459.7 666.4C463.8 666.4 467.3 667.2 471.1 669.6C475 672.1 478.5 676.7 482.6 681.1C486.8 685.6 491.6 691.3 496 696.4C500.5 701.5 505.3 707 509.4 711.8C513.6 716.5 518.1 719.4 520.9 725.2C523.8 730.9 524.4 738.2 526.7 746.2C528.9 754.2 531.5 763.8 534.3 773C537.2 782.3 540.7 792.2 543.9 801.7C547.1 811.3 550.8 820.9 553.5 830.5C556.2 840 558.6 849.6 560.2 859.2C561.8 868.8 561.9 878.3 563 887.9C564.2 897.5 565.3 909 566.9 916.6C568.5 924.3 571.5 928.4 572.6 933.8C573.7 939.3 574.2 944.1 573.6 949.2C572.9 954.3 570.5 958.7 568.8 964.5C567 970.2 564.3 975.7 563 983.6C561.8 991.6 561.4 1007.6 561.1 1012.3" fill="none" stroke="#808080" stroke-width="3.1" stroke-linejoin="round"/>
<path d="M474 1012.3C473.2 1009.2 471 998.9 469.2 993.2C467.5 987.5 466.7 983 463.5 977.9C460.3 972.8 454.9 967.4 450.1 962.6C445.3 957.8 438.4 953.3 434.8 949.2C431.1 945 429.3 942.1 428.1 937.7C426.8 933.2 426.8 927.5 427.1 922.4C427.4 917.3 429.3 911.8 430 907C430.6 902.3 431.4 898.7 430.9 893.6C430.5 888.5 427.6 881.5 427.1 876.4C426.6 871.3 427.1 867.5 428.1 863C429 858.5 431.1 854.1 432.9 849.6C434.6 845.1 437 840.7 438.6 836.2C440.2 831.7 441.9 827.6 442.4 822.8C442.9 818 442.4 812.6 441.5 807.5C440.5 802.4 438.8 796 436.7 792.2C434.6 788.3 432.2 786.1 429 784.5C425.8 782.9 422.6 782.7 417.5 782.6C412.4 782.5 404.5 784.6 398.4 784.1C392.3 783.6 387.2 781.9 381.2 779.7C375.1 777.6 368.4 774.1 362 771.1C355.6 768.1 348 764.7 342.9 761.5C337.8 758.3 334.2 756.1 331.4 752C328.5 747.8 326.8 742.1 325.6 736.6C324.5 731.2 324 725.2 324.7 719.4C325.3 713.7 327.1 707.3 329.5 702.2C331.9 697.1 334.9 692.3 339 688.8C343.2 685.3 348.9 682.6 354.4 681.1C359.8 679.7 365.5 679.5 371.6 680.2C377.6 680.8 384.3 683.2 390.7 685C397.1 686.7 403.8 689.4 409.9 690.7C415.9 692 422 693.2 427.1 693C432.2 692.8 436.4 691.6 440.5 689.7C444.7 687.9 448.2 684 452 682.1C455.8 680.2 459.7 678.1 463.5 678.2C467.3 678.4 471.1 680 475 683C478.8 686.1 482.6 692 486.5 696.4C490.3 700.9 493.8 705.4 497.9 709.8C502.1 714.3 507.7 718.5 511.4 723.2C515 728 517.7 732.8 520 738.6C522.2 744.3 522.7 750 524.8 757.7C526.8 765.4 529.5 775.6 532.4 784.5C535.3 793.4 539.1 802.1 542 811.3C544.9 820.6 547.4 830.5 549.6 840C551.9 849.6 554 859.2 555.4 868.8C556.8 878.3 557.3 888.5 558.3 897.5C559.2 906.4 559.9 915.7 561.1 922.4C562.4 929.1 565.1 932.6 565.9 937.7C566.7 942.8 567 947.3 565.9 953C564.8 958.7 561.3 965.4 559.2 972.1C557.1 978.8 554.6 986.5 553.5 993.2C552.4 999.9 552.7 1009.2 552.5 1012.3" fill="none" stroke="#808080" stroke-width="3.1" stroke-linejoin="round"/>
<path d="M481.7 1012.3C480.2 1008.5 475.8 995.8 473.1 989.4C470.3 983 468.9 979.2 465.4 974.1C461.9 969 455.8 963.2 452 958.7C448.2 954.3 444.8 951.4 442.4 947.3C440 943.1 438.6 938.3 437.6 933.8C436.7 929.4 436.4 925.2 436.7 920.4C437 915.7 439.1 909.9 439.6 905.1C440 900.3 440 896.5 439.6 891.7C439.1 886.9 437 881.2 436.7 876.4C436.4 871.6 436.7 867.8 437.6 863C438.6 858.2 441 852.5 442.4 847.7C443.9 842.9 445.3 839.1 446.3 834.3C447.2 829.5 448.2 824.7 448.2 819C448.2 813.2 447.2 806.2 446.3 799.8C445.3 793.4 443.9 787.1 442.4 780.7C441 774.3 439.2 765.2 437.6 761.5C436 757.9 435.9 758.5 432.9 758.7C429.8 758.8 424.6 761.2 419.4 762.5C414.3 763.8 408.3 766.2 402.2 766.3C396.2 766.5 389.5 765 383.1 763.4C376.7 761.9 369.7 759.6 363.9 756.7C358.2 753.9 352.6 750.2 348.6 746.2C344.6 742.2 341.7 737.3 340 732.8C338.2 728.3 337.6 723.9 338.1 719.4C338.6 714.9 340.2 709.7 342.9 706C345.6 702.3 349.9 699.2 354.4 697.4C358.8 695.5 364.2 694.9 369.7 694.9C375.1 694.9 380.8 696 386.9 697.4C393 698.8 400.3 701.1 406 703.1C411.8 705.2 416.9 707.4 421.4 709.8C425.8 712.2 429.7 715.4 432.9 717.5C436 719.6 438.4 722.6 440.5 722.3C442.6 722 443.7 718.6 445.3 715.6C446.9 712.6 448 707.1 450.1 704.1C452.2 701.1 454.9 698.8 457.7 697.4C460.6 696 463.8 694.7 467.3 695.5C470.8 696.3 475 698.8 478.8 702.2C482.6 705.5 486.1 711.1 490.3 715.6C494.4 720.1 499.9 724.5 503.7 729C507.5 733.5 510.7 737.6 513.3 742.4C515.8 747.2 517.1 751.3 519 757.7C520.9 764.1 522.5 772.4 524.8 780.7C527 789 529.9 798.2 532.4 807.5C535 816.7 537.8 826.6 540.1 836.2C542.3 845.8 544.2 855.4 545.8 864.9C547.4 874.5 548.5 884.4 549.6 893.6C550.8 902.9 551.6 913.1 552.5 920.4C553.5 927.8 555.2 931.9 555.4 937.7C555.5 943.4 554.7 948.8 553.5 954.9C552.2 961 549.3 967.7 547.7 974.1C546.1 980.4 544.9 986.8 543.9 993.2C542.9 999.6 542.3 1009.2 542 1012.3" fill="none" stroke="#808080" stroke-width="3.1" stroke-linejoin="round"/>
<path d="M486.5 767.3C483.3 767.9 479 772.7 476.9 776.9C474.8 781 474 784.8 474 792.2C474 799.5 475.9 811.3 476.9 820.9C477.8 830.5 479.4 841.6 479.8 849.6C480.1 857.6 479.4 862.7 478.8 868.8C478.2 874.8 475.9 879.6 475.9 886C475.9 892.4 477 900.3 478.8 907C480.6 913.7 483.6 919.2 486.5 926.2C489.3 933.2 492.7 942.5 496 949.2C499.4 955.9 504 964.2 506.6 966.4C509.1 968.6 510.4 966.1 511.4 962.6C512.3 959.1 511.7 951.4 512.3 945.3C512.9 939.3 513.7 931.3 515.2 926.2C516.6 921.1 519.8 919.5 520.9 914.7C522 909.9 522.5 903.5 521.9 897.5C521.2 891.4 518.2 886.3 517.1 878.3C516 870.3 516.1 859.2 515.2 849.6C514.2 840 512.9 830.5 511.4 820.9C509.8 811.3 508.2 800.1 505.6 792.2C503.1 784.2 499.2 777.2 496 773C492.8 768.9 489.7 766.6 486.5 767.3Z" fill="none" stroke="#808080" stroke-width="3.1" stroke-linejoin="round"/>
<path d="M484.5 747.2C481 748.1 474.5 751.5 471.1 755.8C467.8 760.1 465.9 767 464.4 773C463 779.1 462.4 784.2 462.5 792.2C462.7 800.1 464.6 811.3 465.4 820.9C466.2 830.5 467.5 840 467.3 849.6C467.2 859.2 465.1 870.3 464.4 878.3C463.8 886.3 463 890.1 463.5 897.5C464 904.8 465.1 914.4 467.3 922.4C469.5 930.3 473.1 937.7 476.9 945.3C480.7 953 485.5 961.6 490.3 968.3C495.1 975 501.1 982 505.6 985.5C510.1 989.1 513.4 990.3 517.1 989.4C520.8 988.4 524.9 985.5 527.6 979.8C530.3 974.1 532.3 963.8 533.4 954.9C534.5 946 534.8 935.8 534.3 926.2C533.8 916.6 531.6 907 530.5 897.5C529.4 887.9 528.6 878.3 527.6 868.8C526.7 859.2 526.2 849.6 524.8 840C523.3 830.5 521.2 821.2 519 811.3C516.8 801.4 514.2 789 511.4 780.7C508.5 772.4 505 766.6 501.8 761.5C498.6 756.4 495.1 752.4 492.2 750C489.3 747.7 488.1 746.2 484.5 747.2Z" fill="none" stroke="#808080" stroke-width="3.1" stroke-linejoin="round"/>
<path d="M474 721.3C470.2 722.6 464.8 726.8 461.6 730.9C458.4 735 456.6 739.8 454.9 746.2C453.1 752.6 451.5 761.5 451 769.2C450.6 776.9 451.4 783.6 452 792.2C452.6 800.8 454.4 811.3 454.9 820.9C455.3 830.5 455.5 841.6 454.9 849.6C454.2 857.6 452.2 863 451 868.8C449.9 874.5 448.2 878.3 448.2 884.1C448.2 889.8 449.4 896.2 451 903.2C452.6 910.2 455 918.5 457.7 926.2C460.5 933.8 463.8 942.1 467.3 949.2C470.8 956.2 474.3 961.9 478.8 968.3C483.3 974.7 489.7 982.4 494.1 987.5C498.6 992.6 501.5 996.4 505.6 998.9C509.8 1001.5 514.5 1003.7 519 1002.8C523.5 1001.8 528.6 998 532.4 993.2C536.2 988.4 539.8 982 542 974.1C544.2 966.1 545.5 954.9 545.8 945.3C546.1 935.8 544.5 926.2 543.9 916.6C543.3 907 542.9 897.5 542 887.9C541 878.3 539.8 868.8 538.2 859.2C536.6 849.6 534.3 840 532.4 830.5C530.5 820.9 528.9 811.3 526.7 801.7C524.4 792.2 521.9 781.6 519 773C516.1 764.4 512.9 756.7 509.4 750C505.9 743.3 502.1 737.3 497.9 732.8C493.8 728.3 488.5 725.2 484.5 723.2C480.6 721.3 477.8 720.1 474 721.3Z" fill="none" stroke="#808080" stroke-width="3.1" stroke-linejoin="round"/>
<path d="M352.4 728C352.1 723.9 356.9 718.5 360.1 715.6C363.3 712.7 367.1 711.8 371.6 710.8C376.1 709.8 381.8 709.2 386.9 709.8C392 710.5 398.1 712.7 402.2 714.6C406.4 716.5 409.4 718.6 411.8 721.3C414.2 724 416.3 727.4 416.6 730.9C416.9 734.4 415.8 739.4 413.7 742.4C411.6 745.4 408 747.7 404.1 749.1C400.3 750.5 395.5 751.2 390.7 751C385.9 750.8 380.2 749.9 375.4 748.1C370.6 746.4 365.8 743.8 362 740.5C358.2 737.1 352.8 732.2 352.4 728Z" fill="none" stroke="#808080" stroke-width="3.1" stroke-linejoin="round"/>
<path d="M517.4 639.5V1010.5" stroke="#000" stroke-width="4.0" stroke-dasharray="12 4.75" stroke-dashoffset="7.6" fill="none"/>
</g>
<path d="M143 638.8V1011.2" stroke="#000" stroke-width="2.0"/>
<path d="M704.6 638.8V1011.2" stroke="#000" stroke-width="1.2"/>
<path d="M142 639.5H705.2" stroke="#000" stroke-width="1.5"/>
<path d="M142 1010.5H705.2" stroke="#000" stroke-width="1.5"/>
<path d="M135.4 639.5h7.6M135.4 732.2h7.6M135.4 825h7.6M135.4 917.8h7.6M135.4 1010.5h7.6M143 1010.5v7.6M330.2 1010.5v7.6M517.4 1010.5v7.6M704.6 1010.5v7.6" stroke="#000" stroke-width="1.5" fill="none"/>
<text class="ts" x="128.2" y="648.5" font-size="26.3" text-anchor="end">200</text>
<text class="ts" x="128.2" y="741.2" font-size="26.3" text-anchor="end">400</text>
<text class="ts" x="128.2" y="834" font-size="26.3" text-anchor="end">600</text>
<text class="ts" x="128.2" y="926.8" font-size="26.3" text-anchor="end">800</text>
<text class="ts" x="128.2" y="1019.5" font-size="26.3" text-anchor="end">1000</text>
<text class="ts" font-size="25.3" text-anchor="middle" transform="translate(47 826.8) rotate(-90)">hPa</text>
<text class="ts" font-size="45.5" text-anchor="middle" transform="translate(423.2 627.1) scale(1.024 1)">(b) 10 November</text>
</g>
<g id="pc">
<clipPath id="cc"><rect x="143" y="1084.5" width="561.6" height="371"/></clipPath>
<g clip-path="url(#cc)">
<path d="M486.8 1084.7L536.7 1084.5L534.7 1088.1L531.8 1090.5L510.7 1101.4L488.8 1115.5L478.8 1120.9L459.5 1126.4L440.8 1130.1L434.8 1130L431.2 1128.4L429.2 1126.4L428.1 1124.4L427.5 1120.4L428.8 1116.5L430.8 1114.3L438.5 1110.4L468.8 1099.1L483.4 1088.5ZM564.7 1162.2L574.7 1161.4L584.7 1162.4L594.7 1165.6L602.3 1170.3L607.6 1176.3L609.8 1182.2L609.6 1188.2L606.9 1194.2L602.7 1198.7L596.7 1202.6L588.7 1205.6L580.7 1206.9L570.7 1206.7L562.7 1205.2L554.8 1202.2L548.7 1198.5L544.3 1194.2L540.9 1188.2L540.1 1182.2L541.8 1176.3L544.7 1172.1L550.7 1167.3L556.7 1164.4ZM144 1182.2L147 1185.1L148.6 1188.2L149.7 1192.2L150 1196.2L149.6 1200.2L148.4 1204.2L145.8 1208.2L143 1210.1L143 1181.7ZM143.7 1276L151 1278.1L189 1294.9L246.9 1326.3L276.4 1349.8L281.9 1355.8L284 1359.8L285 1365.7L284.1 1369.7L281.8 1373.7L278.1 1377.7L268.9 1383.9L246.9 1394.1L242.9 1396.7L240 1399.7L237.2 1405.6L233.7 1421.6L228.9 1434.1L222.9 1443.7L211.8 1455.5L143 1455.5L143 1275.9Z" fill="#c0c0ff"/>
<path d="M145 1330.7L151 1331.9L156.3 1333.8L161 1336.8L167 1342.1L171 1343.5L179 1342.4L197 1337.1L205 1336.1L218.9 1336.8L236.9 1340.6L246.9 1345.3L252.9 1349.4L257.9 1353.8L261.1 1357.8L263 1361.8L263.3 1365.7L262.8 1367.7L261.8 1369.7L258.9 1373.3L252.9 1377.7L244.9 1381.6L226.9 1388.7L221.8 1391.7L219.4 1393.7L217.7 1395.7L215.7 1399.7L212.9 1411.6L210.7 1417.6L207 1423.5L202.7 1427.6L197 1430.7L191 1432L183 1431.8L175 1430L169 1427.6L165 1425.1L161.5 1421.6L159.6 1417.6L158.8 1413.6L159 1409.6L162.7 1393.7L162.5 1387.7L157 1371.7L155.6 1357.8L154.2 1355.8L151 1354.3L143 1353.3L143 1330.6Z" fill="#a0a0ff"/>
<path d="M203 1351.6L211 1350.7L218.9 1350.7L226.9 1351.6L232.9 1353.1L238.3 1355.8L240.9 1358L243.3 1361.8L243.4 1365.7L240.8 1369.7L234.7 1373.7L226.9 1376.7L214.9 1379.7L205 1381.3L199 1381.5L193 1380.6L186.3 1377.7L181.6 1373.7L179.4 1369.7L179.1 1365.7L180.9 1361.8L185 1358.1L189 1355.8L195 1353.5Z" fill="#8080ff"/>
<path d="M211 1106L218.9 1105L226.9 1105.9L272.9 1120.1L318.4 1132.4L364.8 1140L390.8 1142.8L400.8 1144.6L424.8 1152L446.8 1157.2L452.8 1159.1L460.8 1163.4L468.3 1170.3L494.8 1206.2L522.7 1240.9L528.7 1246.3L543.6 1256L549.7 1262L554.8 1270L558.1 1280L559.1 1288L558.8 1295.9L557.5 1303.9L553.6 1319.9L552.9 1325.8L553.1 1333.8L555.3 1353.8L554.9 1361.8L553.9 1367.7L550.3 1379.7L542.5 1395.7L538.7 1404.8L530.3 1433.6L527.2 1439.5L522.7 1444.8L516.7 1449.1L510.7 1451.7L504.7 1452.9L498.7 1452.6L492.8 1450.9L488.8 1449.1L472.8 1438.4L466.8 1436.2L460.8 1435.7L440.8 1436L426.8 1434.7L412.8 1432.1L384.8 1424.9L376.8 1423.9L374.8 1424.3L372.9 1425.6L372 1427.6L372 1445.5L370.8 1455.5L296.6 1455.5L295.9 1445.5L297.1 1437.5L300.9 1428.9L306.9 1421.6L312.9 1417.1L320.9 1413.2L330.9 1410.4L344.9 1408.2L347 1407.6L349.8 1405.6L350.7 1401.6L347.2 1383.7L346.4 1371.7L348.2 1359.8L353.7 1341.8L354 1337.8L353.3 1331.8L345.1 1307.9L340.8 1286L338.9 1278.6L335.7 1272L330.9 1265.8L278.6 1216.1L271.5 1210.2L240.9 1186.8L201 1167L195.1 1162.3L190.5 1156.3L187.6 1150.3L185.7 1142.3L185.8 1134.4L187.8 1126.4L192.3 1118.4L197 1113.4L203 1109.2Z" fill="#ffc0c0"/>
<path d="M214.9 1122L218.9 1121.4L224.9 1121.9L254.9 1128.3L268.9 1132L316.9 1147.1L366.8 1159.6L414.8 1166.5L424.8 1168.5L432.8 1171.2L439.2 1174.3L445.4 1178.2L452.1 1184.2L490.8 1231.2L494.3 1236.1L497.5 1242.1L501 1252L510.4 1289.9L515.6 1305.9L521.3 1329.8L530 1353.8L531 1363.7L530 1375.7L524.2 1397.7L518.5 1427.6L516.7 1431.7L513.6 1435.6L508.7 1438.5L504.7 1439.5L500.7 1439.4L495 1437.5L492 1435.6L488.8 1432.3L480.8 1420.4L476.8 1417.4L472.8 1416.1L466.8 1415.9L450.8 1417.9L438.8 1418.3L426.8 1417.2L414.8 1414.5L404.8 1410.9L396.8 1407L388.5 1401.6L381.9 1395.7L378.6 1391.7L375.1 1385.7L373.6 1381.7L372.6 1375.7L372.9 1369.7L373.9 1365.7L376.7 1359.8L380.8 1354.1L394.8 1339.8L398.2 1335.8L402.8 1328.5L404.8 1326.9L408.8 1326L414.8 1326.8L420.8 1329L430.4 1333.8L436.8 1334.7L440.3 1333.8L442.3 1331.8L442.9 1327.8L441.3 1323.9L433.4 1315.9L424.8 1304.4L420.8 1301.7L412.8 1299.1L406.8 1299L402.8 1300.4L398.6 1303.9L392.8 1312.9L390.8 1314.4L388.8 1315L382.8 1314.2L378.8 1312.5L374.8 1309.8L369.6 1303.9L366.6 1297.9L364.8 1291.9L362.4 1276L359.6 1268L355.9 1262L348.6 1254L284.6 1202.2L248.9 1176.8L217.2 1158.3L211 1154.2L206.4 1150.3L203.7 1146.3L202.3 1142.3L201.9 1138.4L202.5 1134.4L204.1 1130.4L207 1126.5L211 1123.5Z" fill="#ffa0a0"/>
<path d="M244.9 1142.2L254.9 1142.1L264.9 1143.6L362.8 1175.6L370.8 1177.4L418.8 1184.8L426.8 1187.5L434.8 1192.2L442.8 1200.1L474 1238.1L478.5 1244.1L481.6 1250.1L491.7 1291.9L493.3 1301.9L493.6 1309.9L493 1317.9L491.3 1323.9L488.8 1327.8L486.8 1329.4L482.8 1330.2L478.8 1329L474.8 1326.6L468.8 1321.3L446.2 1295.9L438.8 1288.2L434.8 1284.9L420.8 1277.9L394.8 1267.4L386.8 1263.3L364.4 1244.1L344.9 1229.1L249.8 1162.3L241 1154.3L238.2 1150.3L237.5 1148.3L237.6 1146.3L238.9 1144.3ZM414.8 1359.7L422.8 1358.4L430.8 1358.4L440.8 1359.7L450.8 1362.3L460.1 1365.7L471.6 1371.7L474.1 1373.7L475.6 1375.7L475.9 1377.7L475.4 1379.7L471.9 1385.7L466.4 1391.7L460.8 1395.8L452.8 1399.6L444.8 1401.5L436.8 1402.1L428.8 1401.4L420.8 1399.5L412.8 1396.1L406.1 1391.7L400.7 1385.7L398.1 1379.7L398.2 1373.7L401.2 1367.7L406.8 1363ZM490.8 1365.3L492.8 1364.7L494.7 1365.1L496.7 1366.6L498.7 1369.1L500.8 1373.7L502.6 1381.7L502.8 1387.7L501 1393.7L498.7 1395.2L495.9 1393.7L492.8 1389.7L490.4 1381.7L486.6 1375.7L485.8 1373.7L486.8 1369.7L488.8 1366.9Z" fill="#ff8080"/>
<path d="M376.8 1202.2L390.8 1202L410.8 1203.5L416.8 1204.9L422.8 1208.1L426.8 1212.1L429.9 1216.1L438.2 1228.1L444.3 1238.1L447.3 1244.1L449.4 1250.1L449.7 1254L449.1 1256L446.8 1257.9L442.8 1258.5L432.8 1257L422.8 1253.9L408.8 1248.7L400.8 1245.2L395.7 1242.1L375.4 1224.1L369.9 1218.1L365.9 1212.2L365 1208.2L365.7 1206.2L366.8 1205.1L370.8 1203.2Z" fill="#ff6060"/>
<path d="M353.3 1455.5L354.6 1452.8L357.5 1449.8L360.9 1446.5L367.5 1443.4L375 1440.2L381.7 1437.3L388.4 1433.6L395.9 1431.7L403.4 1429.6L406.7 1427.9L409.6 1427.3L413.4 1428.4L420.9 1430.6L425.1 1433.6L430.1 1436.7L437.6 1440.1L442.6 1440.7L449.3 1442.3L456.8 1443.4L463.4 1446.5L470.1 1450.7L473.4 1453.2L476.8 1455.5" fill="#000"/>
<path d="M271.8 1163.5C271.8 1159.6 271.8 1160.2 275.2 1158.5C278.5 1156.8 284.9 1154.7 291.9 1153.5C298.9 1152.2 308.7 1151.3 317.1 1151C325.5 1150.6 333.8 1150.3 342.2 1151.5C350.6 1152.6 359 1155.2 367.4 1157.7C375.8 1160.1 384.1 1163.3 392.5 1166C400.9 1168.8 409.3 1171.5 417.7 1174.4C426.1 1177.4 435.8 1180.4 442.8 1183.7C449.8 1186.9 454.8 1189.2 459.6 1193.7C464.3 1198.2 468.3 1204.3 471.3 1210.5C474.4 1216.6 475.2 1223.9 478 1230.6C480.8 1237.3 484.5 1244 488.1 1250.7C491.7 1257.4 496.8 1264.4 499.8 1270.8C502.9 1277.3 504.6 1282.6 506.5 1289.3C508.5 1296 509.6 1305.5 511.6 1311.1C513.5 1316.7 516.7 1318.6 518.3 1322.8C519.8 1327 520.8 1331.8 520.8 1336.2C520.8 1340.7 519.5 1345.7 518.3 1349.7C517 1353.6 514.5 1356.1 513.2 1359.7C512 1363.3 510.7 1367.3 510.7 1371.4C510.7 1375.6 511.7 1381.2 513.2 1384.9C514.8 1388.5 517.2 1389.9 520 1393.2C522.7 1396.6 527.6 1400.8 530 1405C532.4 1409.2 533.9 1413.9 534.2 1418.4C534.5 1422.9 533.2 1427.6 531.7 1431.8C530.2 1436 527.8 1439.9 525 1443.5C522.2 1447.2 518.8 1451.7 514.9 1453.6C511 1455.6 506 1455.8 501.5 1455.3C497 1454.7 492.6 1452.8 488.1 1450.3C483.6 1447.7 478.9 1443.8 474.7 1440.2C470.5 1436.6 467.4 1431.7 462.9 1428.5C458.5 1425.2 453.2 1422.7 447.9 1420.9C442.5 1419.1 437 1418.8 431.1 1417.6C425.2 1416.3 418.2 1415.5 412.6 1413.4C407.1 1411.3 402.3 1408.6 397.6 1405C392.8 1401.4 388.1 1396 384.1 1391.6C380.2 1387.1 377.4 1381.8 374.1 1378.2C370.7 1374.5 367.9 1372.6 364 1369.8C360.1 1367 354.5 1363.9 350.6 1361.4C346.7 1358.9 342.8 1357.8 340.5 1354.7C338.3 1351.6 337.2 1347.1 337.2 1342.9C337.2 1338.8 338.9 1334 340.5 1329.5C342.2 1325.1 345.6 1321.4 347.3 1316.1C348.9 1310.8 349.8 1304.1 350.6 1297.7C351.4 1291.2 352.1 1284.3 352.3 1277.6C352.5 1270.8 352.5 1263 351.9 1257.4C351.4 1251.8 350.8 1247.9 348.9 1244C347 1240.1 344.2 1237 340.5 1234C336.9 1230.9 331.9 1228.4 327.1 1225.6C322.4 1222.8 317.1 1220.3 312 1217.2C307 1214.1 301.7 1210.8 296.9 1207.1C292.2 1203.5 287.2 1199.6 283.5 1195.4C279.9 1191.2 277.1 1187.3 275.2 1182C273.2 1176.7 271.8 1167.4 271.8 1163.5Z" fill="none" stroke="#808080" stroke-width="3.1" stroke-linejoin="round"/>
<path d="M295.3 1171.9C296.1 1168.1 299.5 1166.5 303.7 1164.4C307.8 1162.3 313.2 1160.3 320.4 1159.3C327.7 1158.4 338.9 1158 347.3 1158.8C355.6 1159.7 362.9 1162.2 370.7 1164.4C378.5 1166.6 386.4 1169.3 394.2 1171.9C402 1174.6 410.1 1177.2 417.7 1180.3C425.2 1183.4 433.3 1186.7 439.5 1190.4C445.6 1194 450.8 1197.6 454.6 1202.1C458.3 1206.6 460.4 1211.3 462.1 1217.2C463.8 1223.1 463.9 1230.6 464.6 1237.3C465.3 1244 465.5 1251.3 466.3 1257.4C467.1 1263.6 468.1 1269.2 469.7 1274.2C471.2 1279.2 473.7 1283.4 475.5 1287.6C477.3 1291.8 479.4 1295.4 480.5 1299.3C481.7 1303.3 482.2 1307.6 482.2 1311.1C482.2 1314.6 482.1 1318.5 480.5 1320.3C479 1322.1 475.7 1322.7 473 1322C470.3 1321.3 467.4 1319.1 464.6 1316.1C461.8 1313.2 458.5 1307.7 456.2 1304.4C454 1301 453.2 1298 451.2 1296C449.3 1294 447.9 1293.5 444.5 1292.6C441.1 1291.8 435.6 1291.5 431.1 1291C426.6 1290.4 422.7 1290.7 417.7 1289.3C412.6 1287.9 406.5 1285.4 400.9 1282.6C395.3 1279.8 388.1 1276.2 384.1 1272.5C380.2 1268.9 379.4 1265.3 377.4 1260.8C375.5 1256.3 374.1 1250.4 372.4 1245.7C370.7 1240.9 369.9 1236.3 367.4 1232.3C364.9 1228.2 361.2 1224.5 357.3 1221.4C353.4 1218.3 348.9 1215.9 343.9 1213.8C338.9 1211.7 332.7 1211 327.1 1208.8C321.5 1206.6 315.1 1204.1 310.4 1200.4C305.6 1196.8 301.1 1191.8 298.6 1187C296.1 1182.3 294.4 1175.7 295.3 1171.9Z" fill="none" stroke="#808080" stroke-width="3.1" stroke-linejoin="round"/>
<path d="M317.1 1175.3C317.9 1172.2 319.3 1171.5 323.8 1170.2C328.2 1169 336.6 1167.4 343.9 1167.7C351.2 1168 359.3 1169.8 367.4 1171.9C375.5 1174 384.7 1177.5 392.5 1180.3C400.3 1183.1 407.6 1185.3 414.3 1188.7C421 1192 427.7 1196.2 432.8 1200.4C437.8 1204.6 441.8 1209.1 444.5 1213.8C447.2 1218.6 448.4 1223.9 448.7 1228.9C449 1234 448 1239.5 446.2 1244C444.4 1248.5 441.4 1252.8 437.8 1255.8C434.2 1258.7 429.1 1260.8 424.4 1261.6C419.6 1262.5 414 1262.3 409.3 1260.8C404.5 1259.2 399.8 1256 395.9 1252.4C392 1248.8 388.6 1243.7 385.8 1239C383 1234.2 381.6 1228.4 379.1 1223.9C376.6 1219.4 374.1 1215.2 370.7 1212.2C367.4 1209.1 363.5 1207.1 359 1205.5C354.5 1203.8 348.6 1203.5 343.9 1202.1C339.1 1200.7 334.7 1199.3 330.5 1197.1C326.3 1194.8 321 1192.3 318.7 1188.7C316.5 1185.1 316.2 1178.3 317.1 1175.3Z" fill="none" stroke="#808080" stroke-width="3.1" stroke-linejoin="round"/>
<path d="M385.8 1200.4C386.1 1197.3 388.6 1195.1 390.8 1193.7C393.1 1192.3 395.9 1191.6 399.2 1192C402.6 1192.5 406.8 1194 411 1196.2C415.2 1198.5 420.9 1201.7 424.4 1205.5C427.9 1209.2 430.8 1214.4 431.9 1218.9C433 1223.3 432.3 1228.6 431.1 1232.3C429.8 1235.9 427.2 1239 424.4 1240.7C421.6 1242.3 417.7 1242.9 414.3 1242.3C411 1241.8 407.3 1239.8 404.3 1237.3C401.2 1234.8 398.4 1231.4 395.9 1227.3C393.4 1223.1 390.8 1216.6 389.2 1212.2C387.5 1207.7 385.5 1203.5 385.8 1200.4Z" fill="none" stroke="#808080" stroke-width="3.1" stroke-linejoin="round"/>
<path d="M377.4 1346.3C378.4 1344.8 380.2 1344.9 384.1 1345.5C388.1 1346 395.3 1348.3 400.9 1349.7C406.5 1351 412.1 1353.6 417.7 1353.8C423.3 1354.1 428.9 1352.4 434.4 1351.3C440 1350.2 445.6 1348.4 451.2 1347.1C456.8 1345.9 463.2 1344.5 468 1343.8C472.7 1343.1 476.6 1342 479.7 1342.9C482.8 1343.9 484.5 1345.5 486.4 1349.7C488.4 1353.8 489.8 1361.9 491.4 1368.1C493.1 1374.2 494.5 1381.5 496.5 1386.5C498.4 1391.6 500.7 1394.6 503.2 1398.3C505.7 1401.9 509.6 1404.7 511.6 1408.3C513.5 1412 514.9 1416.4 514.9 1420.1C514.9 1423.7 513.8 1427.8 511.6 1430.1C509.3 1432.5 505.1 1434 501.5 1434.3C497.9 1434.6 493.4 1433.6 489.8 1431.8C486.1 1430 483.1 1426.2 479.7 1423.4C476.4 1420.6 473.6 1417.4 469.7 1415C465.7 1412.7 461.3 1410.6 456.2 1409.2C451.2 1407.8 445.3 1407.4 439.5 1406.7C433.6 1406 426.6 1406 421 1405C415.4 1404 410.1 1403 405.9 1400.8C401.7 1398.6 398.7 1395.3 395.9 1391.6C393.1 1387.8 391.4 1382.6 389.2 1378.2C386.9 1373.7 384.3 1368.7 382.5 1364.7C380.6 1360.8 379.1 1357.8 378.3 1354.7C377.4 1351.6 376.5 1347.8 377.4 1346.3Z" fill="none" stroke="#808080" stroke-width="3.1" stroke-linejoin="round"/>
<path d="M300.3 1368.1C300.3 1365.9 301.7 1363.2 303.7 1361.4C305.6 1359.6 309 1357.6 312 1357.2C315.1 1356.8 319.7 1357.6 322.1 1358.9C324.5 1360.1 325.9 1362.1 326.3 1364.7C326.7 1367.4 325.3 1371.4 324.6 1374.8C323.9 1378.2 322.7 1381.5 322.1 1384.9C321.5 1388.2 322.1 1391.8 321.3 1394.9C320.4 1398 318.5 1400.5 317.1 1403.3C315.7 1406.1 313.2 1409.2 312.9 1411.7C312.6 1414.2 314.1 1416 315.4 1418.4C316.6 1420.8 319.7 1423.4 320.4 1425.9C321.1 1428.5 320.7 1431 319.6 1433.5C318.5 1436 316.4 1439.2 313.7 1441C311.1 1442.8 306.7 1444.2 303.7 1444.4C300.6 1444.5 298.1 1443.7 295.3 1441.9C292.5 1440.1 289.7 1436.3 286.9 1433.5C284.1 1430.7 280.9 1427.2 278.5 1425.1C276.1 1423 273.2 1422.3 272.6 1420.9C272.1 1419.5 273.3 1418.3 275.2 1416.7C277 1415.2 280.7 1413.6 283.5 1411.7C286.3 1409.7 289.4 1407.8 291.9 1405C294.4 1402.2 296.8 1398.6 298.6 1394.9C300.4 1391.3 302 1386.5 302.8 1383.2C303.7 1379.8 304.1 1377.3 303.7 1374.8C303.2 1372.3 300.3 1370.3 300.3 1368.1Z" fill="none" stroke="#808080" stroke-width="3.1" stroke-linejoin="round"/>
<path d="M517.4 1084.5V1455.5" stroke="#000" stroke-width="4.0" stroke-dasharray="12 4.75" stroke-dashoffset="7.6" fill="none"/>
</g>
<path d="M143 1083.8V1456.2" stroke="#000" stroke-width="2.0"/>
<path d="M704.6 1083.8V1456.2" stroke="#000" stroke-width="1.2"/>
<path d="M142 1084.5H705.2" stroke="#000" stroke-width="1.5"/>
<path d="M142 1455.5H705.2" stroke="#000" stroke-width="1.5"/>
<path d="M135.4 1084.5h7.6M135.4 1177.2h7.6M135.4 1270h7.6M135.4 1362.8h7.6M135.4 1455.5h7.6M143 1455.5v7.6M330.2 1455.5v7.6M517.4 1455.5v7.6M704.6 1455.5v7.6" stroke="#000" stroke-width="1.5" fill="none"/>
<text class="ts" x="128.2" y="1093.5" font-size="26.3" text-anchor="end">200</text>
<text class="ts" x="128.2" y="1186.2" font-size="26.3" text-anchor="end">400</text>
<text class="ts" x="128.2" y="1279" font-size="26.3" text-anchor="end">600</text>
<text class="ts" x="128.2" y="1371.8" font-size="26.3" text-anchor="end">800</text>
<text class="ts" x="128.2" y="1464.5" font-size="26.3" text-anchor="end">1000</text>
<text class="ts" font-size="25.3" text-anchor="middle" transform="translate(47 1271.8) rotate(-90)">hPa</text>
<text class="ts" font-size="45.5" text-anchor="middle" transform="translate(423.2 1072.1) scale(1.024 1)">(c) 11 November</text>
</g>
<g id="pd">
<clipPath id="cd"><rect x="143" y="1529.5" width="561.6" height="371"/></clipPath>
<g clip-path="url(#cd)">
<path d="M584.7 1529.5L632.1 1529.5L631.7 1531.5L629.6 1535.5L626.7 1538.9L623.4 1541.5L618.7 1544L614.7 1545.2L606.7 1546.1L598.7 1544.8L594.7 1543.3L590.7 1541L586.8 1537.5L584 1533.5L582.8 1529.5Z" fill="#c0c0ff"/>
<path d="M207 1752.8L213 1753.5L218.9 1756.6L223.1 1760.9L230.9 1773.5L234.9 1776.8L240.3 1778.8L248.9 1780.1L254.9 1779.6L258.9 1777.6L265 1772.8L268.6 1770.8L274.9 1768.8L280.9 1768.2L286.9 1768.8L292.7 1770.8L295.6 1772.8L298.3 1776.8L298.6 1778.8L297.6 1782.8L294.9 1786.4L290.4 1790.8L289.1 1792.8L288.9 1794.8L289.8 1796.8L296.5 1804.8L299.1 1808.7L301.6 1814.7L302.5 1820.7L301.8 1826.7L299.5 1834.7L297.5 1844.7L294.2 1854.6L292.6 1868.6L289.9 1876.6L285.3 1884.5L280.3 1890.5L271.7 1898.5L270.3 1900.5L185 1900.5L183.5 1896.5L165.8 1862.6L149.7 1826.7L147 1822.8L143 1820.4L143 1783L157 1781.5L175 1780.5L182.2 1778.8L185 1777L186.8 1774.8L191.3 1764.9L195.2 1758.9L201 1754.5Z" fill="#ffc0c0"/>
<path d="M205 1802.6L214.9 1801.5L226.9 1801.6L236.9 1803L246.9 1805.7L256.9 1810.2L263.6 1814.7L269.5 1820.7L273.3 1826.7L275.2 1832.7L275.4 1840.7L273.7 1846.6L268.2 1856.6L266.4 1866.6L265 1870.6L261.5 1876.6L255.9 1882.5L250.5 1886.5L242.9 1890.5L230.9 1894.3L218.9 1895.7L207 1895L195 1892.1L189 1889.1L185 1885L177 1872.4L173 1864.5L169.7 1854.6L167.4 1836.7L168.6 1828.7L172 1820.7L177 1813.7L183 1809.2L193 1805.3Z" fill="#ffa0a0"/>
<path d="M207 1844.5L213 1843.2L220.9 1843.3L228.9 1845.3L234.7 1848.6L238.5 1852.6L240.8 1858.6L240 1864.6L237.6 1868.6L233.1 1872.6L229.3 1874.6L224.9 1876L218.9 1876.9L213 1876.8L209 1876.1L204.4 1874.6L199 1871.4L196.1 1868.6L193.7 1864.6L192.8 1860.6L193.3 1856.6L195.2 1852.6L199 1848.6L203 1846.2Z" fill="#ff8080"/>
<path d="M353.3 1900.5L354.6 1897.8L357.5 1894.8L360.9 1891.5L367.5 1888.4L375 1885.2L381.7 1882.3L388.4 1878.6L395.9 1876.7L403.4 1874.6L406.7 1872.9L409.6 1872.3L413.4 1873.4L420.9 1875.6L425.1 1878.6L430.1 1881.7L437.6 1885.1L442.6 1885.7L449.3 1887.3L456.8 1888.4L463.4 1891.5L470.1 1895.7L473.4 1898.2L476.8 1900.5" fill="#000"/>
<path d="M137.1 1705.8C141 1705.8 154.2 1704.8 160.6 1705.8C166.9 1706.8 170.3 1709 175.2 1711.7C180.1 1714.3 185.5 1717.5 189.9 1721.9C194.3 1726.3 197.7 1733.4 201.6 1738C205.5 1742.7 208.4 1745.4 213.3 1749.7C218.2 1754.1 225 1759.5 230.9 1764.4C236.8 1769.3 242.6 1774.9 248.5 1779C254.3 1783.2 260.7 1785.4 266.1 1789.3C271.4 1793.2 277.5 1797.8 280.7 1802.5C283.9 1807.1 284.2 1811.8 285.1 1817.1C286 1822.5 286.7 1828.4 286 1834.7C285.3 1841.1 283.5 1848.9 280.7 1855.2C277.9 1861.6 272.9 1867.4 269 1872.8C265.1 1878.2 260.7 1882.1 257.3 1887.5C253.9 1892.8 249.9 1902.1 248.5 1905" fill="none" stroke="#808080" stroke-width="3.1" stroke-linejoin="round"/>
<path d="M156.2 1805.4C156.7 1802.5 157.4 1799.1 160.6 1796.6C163.8 1794.2 169.4 1792 175.2 1790.8C181.1 1789.5 188.9 1788.6 195.7 1789.3C202.6 1790 209.4 1792.7 216.2 1795.2C223.1 1797.6 230.9 1801 236.8 1804C242.6 1806.9 248.9 1809.1 251.4 1812.7C253.9 1816.4 252.5 1820.8 252 1825.9C251.5 1831.1 250 1837.6 248.5 1843.5C246.9 1849.4 245.5 1855.7 242.6 1861.1C239.7 1866.5 234.8 1872.1 230.9 1875.7C227 1879.4 223.6 1882.6 219.2 1883.1C214.8 1883.6 209.9 1881.8 204.5 1878.7C199.2 1875.5 191.6 1868.9 186.9 1864C182.3 1859.1 178.9 1854.3 176.7 1849.4C174.5 1844.5 174.5 1838.6 173.8 1834.7C173 1830.8 173.8 1828.6 172.3 1825.9C170.8 1823.2 167.4 1820.6 165 1818.6C162.5 1816.6 159.1 1816.4 157.6 1814.2C156.2 1812 155.7 1808.3 156.2 1805.4Z" fill="none" stroke="#808080" stroke-width="3.1" stroke-linejoin="round"/>
<path d="M140.1 1824.5C142.5 1827.6 150.3 1836.9 154.7 1843.5C159.1 1850.1 162 1857.2 166.4 1864C170.8 1870.9 176.2 1877.7 181.1 1884.5C186 1891.4 193.3 1901.6 195.7 1905" fill="none" stroke="#808080" stroke-width="3.1" stroke-linejoin="round"/>
<path d="M517.4 1529.5V1900.5" stroke="#000" stroke-width="4.0" stroke-dasharray="12 4.75" stroke-dashoffset="7.6" fill="none"/>
</g>
<path d="M143 1528.8V1901.1" stroke="#000" stroke-width="2.0"/>
<path d="M704.6 1528.8V1901.1" stroke="#000" stroke-width="1.2"/>
<path d="M142 1529.5H705.2" stroke="#000" stroke-width="1.5"/>
<path d="M142 1900.5H705.2" stroke="#000" stroke-width="1.2"/>
<path d="M135.4 1529.5h7.6M135.4 1622.2h7.6M135.4 1715h7.6M135.4 1807.8h7.6M135.4 1900.5h7.6M143 1900.5v7.6M330.2 1900.5v7.6M517.4 1900.5v7.6M704.6 1900.5v7.6" stroke="#000" stroke-width="1.5" fill="none"/>
<text class="ts" x="128.2" y="1538.5" font-size="26.3" text-anchor="end">200</text>
<text class="ts" x="128.2" y="1631.2" font-size="26.3" text-anchor="end">400</text>
<text class="ts" x="128.2" y="1724" font-size="26.3" text-anchor="end">600</text>
<text class="ts" x="128.2" y="1816.8" font-size="26.3" text-anchor="end">800</text>
<text class="ts" x="128.2" y="1909.5" font-size="26.3" text-anchor="end">1000</text>
<text class="ts" x="144" y="1934.9" font-size="26.3" text-anchor="middle">70</text>
<text class="ts" x="331.2" y="1934.9" font-size="26.3" text-anchor="middle">75</text>
<text class="ts" x="518.4" y="1934.9" font-size="26.3" text-anchor="middle">80</text>
<text class="ts" x="705.6" y="1934.9" font-size="26.3" text-anchor="middle">85</text>
<text class="ts" x="423.8" y="1969.3" font-size="25.6" text-anchor="middle">Longitude (<tspan class="tn" font-size="17.7" dx="6" dy="-5.6">°</tspan><tspan dx="-3" dy="5.6"> E)</tspan></text>
<text class="ts" font-size="25.3" text-anchor="middle" transform="translate(47 1716.8) rotate(-90)">hPa</text>
<text class="ts" font-size="45.5" text-anchor="middle" transform="translate(423.2 1517.1) scale(1.024 1)">(d) 12 November</text>
</g>
<g id="pe">
<clipPath id="ce"><rect x="1164" y="183" width="561.8" height="370.5"/></clipPath>
<g clip-path="url(#ce)">
<path d="M1182 183.2L1196.7 183L1202.8 191L1205.2 197L1206.4 203L1207 231.1L1205.9 239.1L1204.1 245.1L1201.3 251.1L1198 255.7L1194 259.6L1188 263.4L1182 265.4L1176 265.8L1172 265.3L1164 263.1L1164 197.9L1169 195L1180.6 185ZM1298 183L1340.5 183L1343.4 211L1343.9 241.1L1343.1 245.1L1341.3 249.1L1333.9 261.9L1331.9 264.9L1329.9 266.6L1327.9 267.3L1325.9 266.9L1323.9 265.1L1323 261.1L1323.4 243.1L1318 223.1L1314.5 215L1298.9 191L1297.2 187L1296.4 183ZM1595.8 183L1605.4 183L1605.6 187L1604.8 191L1603.6 193L1601.8 194.5L1599.8 195L1597.8 194.6L1595.8 193.1L1594.6 191L1593.8 187L1594 183ZM1487.9 206.9L1493.9 206.2L1501.9 206.8L1507.9 208.4L1515.9 212.4L1521.7 217L1525.3 221.1L1529.2 227.1L1531.6 233.1L1537 255.1L1539.2 269.1L1539.3 281.1L1538.1 295.2L1538 305.2L1544.2 391.3L1545.9 397.3L1549.9 404.8L1553.7 409.3L1561.9 417L1565.7 421.3L1569.5 427.3L1571.9 433.3L1573.5 443.4L1572.8 461.4L1574.5 471.4L1577.9 480.3L1593.4 509.4L1595.5 515.4L1596.2 521.5L1596.2 553.5L1552.2 553.5L1551.9 533.1L1551 523.5L1549.9 519.9L1547.9 516.1L1545.9 513.9L1543.9 513L1541.9 513.4L1539.9 514.7L1528.9 527.5L1521.9 534.1L1513.9 539.6L1505.9 543.6L1489.9 548.5L1477.9 551.1L1469.9 550.9L1459.9 547.6L1455.9 545.3L1450.9 541.5L1427.9 517.4L1413.9 507.4L1409.2 503.4L1405.8 499.4L1391.1 477.4L1384.3 469.4L1376.9 463.4L1355.9 450.4L1349.1 445.4L1341.5 437.3L1339.1 433.3L1337.4 429.3L1336.4 423.3L1336.8 419.3L1338.2 415.3L1340.7 411.3L1345 407.3L1349.9 404.4L1355.9 402.2L1361.9 401L1373.9 400.6L1385.9 402.4L1391.9 404.2L1399.9 407.4L1417.9 417.2L1421.9 417.8L1423.9 416.4L1425.8 411.3L1426.5 403.3L1424.7 371.3L1423.9 363.2L1418 327.2L1417.3 319.2L1417.9 309.2L1420.2 299.2L1424.4 289.1L1444.1 253.1L1463.4 223.1L1468.5 217L1473.9 212.7L1479.9 209.4ZM1280 312.9L1284 312.3L1288 312.7L1292 314L1296 316.7L1300 321.7L1310.7 341.2L1324.3 371.3L1326.2 377.3L1326.2 381.3L1324.9 385.3L1321.9 389.1L1319.9 390.5L1315.9 392L1311.9 392.1L1307.9 391L1304 388.1L1284 361.2L1268.4 337.2L1267.1 333.2L1266.7 329.2L1267.9 323.2L1270 319.6L1272.1 317.2L1276 314.5Z" fill="#aaaaff"/>
<path d="M1182 208.7L1186 209.3L1188 210.6L1190.7 215L1192.1 219L1193.1 225.1L1193.2 231.1L1192.7 235.1L1190 241.8L1186 246.4L1184 247.8L1180 249.3L1174 249.2L1170 247.6L1164 243.7L1164 218.6L1174 211.5L1178 209.7ZM1491.9 214.8L1495.9 214.7L1501.9 215.4L1507.9 217.5L1511.9 219.8L1515.9 223.1L1519.3 227.1L1521.7 231.1L1524 237.1L1526.8 253.1L1530.1 279.1L1529.8 287.1L1527.4 301.2L1526.8 319.2L1528.9 359.2L1531.6 395.3L1534.3 405.3L1537.9 414L1541.9 419.6L1551.9 427.9L1555.9 432.3L1557.7 435.3L1559.1 439.3L1559.8 445.4L1555 471.4L1553.9 473.1L1551.9 474L1545.9 474.3L1541.9 475.6L1537.9 479.3L1533.9 486.4L1526.2 507.4L1522.8 513.4L1518.1 519.5L1513.9 523.6L1508.6 527.5L1487.9 539.3L1479.9 542.3L1473.9 542.8L1467.9 541.9L1463.9 540.5L1458.9 537.5L1454.7 533.5L1451.9 529.5L1441.9 511.8L1435.9 503.5L1426 491.4L1424.8 489.4L1423.7 485.4L1423.9 481.4L1424.5 479.4L1427.3 475.4L1431.9 470.2L1436 463.4L1439.2 453.4L1440.8 443.4L1439.9 407.3L1437.2 367.2L1431.3 325.2L1430.8 315.2L1432.5 305.2L1435.4 297.2L1454.7 257.1L1469.5 229.1L1473.9 223.5L1479.6 219L1485.9 216.1ZM1282 323L1286 322.8L1290 325.2L1294 330.5L1304 346.1L1306.9 353.2L1309.3 363.2L1309.5 367.2L1307.9 370.2L1305.9 370.3L1304 369.4L1296 362.7L1290 355.6L1284 345.2L1278.7 335.2L1277.3 331.2L1277.2 329.2L1278 326.4L1280 324ZM1371.9 413.2L1379.9 413.6L1389.9 416.3L1399.1 421.3L1405.3 427.3L1408.5 433.3L1409.4 437.3L1409.6 441.3L1407.9 448.9L1406.6 451.4L1404.7 453.4L1401.9 454.7L1397.9 455.1L1391.9 454.2L1383.9 451.7L1375.9 447.9L1368.1 443.4L1362.8 439.3L1358.9 435.3L1356.4 431.3L1355.3 427.3L1355.6 423.3L1356.3 421.3L1357.9 419L1361.9 415.9L1365.9 414.3Z" fill="#8080ff"/>
<path d="M1495.9 221L1503.9 222.7L1507.9 224.8L1510.8 227.1L1515.6 233.1L1517.4 237.1L1518.4 241.1L1522.3 281.1L1521.9 287.7L1518.8 301.2L1517.3 319.2L1521.9 395.3L1523.9 405.4L1527.9 419.8L1531.9 429.5L1537.5 439.3L1538.9 445.4L1537.4 451.4L1531.9 461.4L1527.9 470.4L1518.1 501.4L1513.7 509.4L1510.4 513.4L1506 517.5L1485.9 533L1479.9 535.8L1473.9 536.5L1468.3 535.5L1464.1 533.5L1461.5 531.5L1458.1 527.5L1456.1 523.5L1446.3 497.4L1444.7 491.4L1444.6 483.4L1450.2 455.4L1451.4 447.4L1451.6 441.3L1446.6 365.2L1441.1 323.2L1440.9 315.2L1441.8 309.2L1444.5 301.2L1474.6 233.1L1477.9 228.5L1483.9 223.9L1489.9 221.6Z" fill="#5555ff"/>
<path d="M1497.9 264.9L1501.9 264.8L1505.9 266L1507.9 267.2L1509.9 269.2L1511.9 272.5L1513.8 279.1L1514 283.1L1513.4 287.1L1511 293.1L1507.9 297.4L1505.9 298.8L1501.9 300.2L1495.9 299.6L1491.6 297.2L1489.6 295.2L1487 291.1L1485.2 285.1L1485.4 279.1L1486.5 275.1L1488.7 271.1L1493.9 266.3ZM1477.9 338.7L1481.9 337.5L1485.9 337.7L1489.9 339.6L1491.9 341.5L1494.5 345.2L1496.6 351.2L1497.3 361.2L1496.7 367.2L1495.1 373.3L1492.5 379.3L1490 383.3L1486.5 387.3L1483.9 389.4L1479.9 391.4L1475.9 392L1471.9 391L1469.9 389.8L1467.3 387.3L1464.8 383.3L1462.7 375.3L1462.5 367.2L1463.3 361.2L1466.7 351.2L1468.9 347.2L1471.9 343.4Z" fill="#2a2aff"/>
<path d="M1391.9 229.5L1393.9 229.1L1395.9 230.4L1398 235.1L1397.8 241.1L1395.9 245.1L1393.9 246.3L1391.9 245.9L1389.9 243.6L1388.7 239.1L1389.4 233.1ZM1258 250.8L1264 249.2L1268 249.4L1272 250.7L1275.7 253.1L1277.8 255.1L1281.3 261.1L1282.3 265.1L1282.5 269.1L1281.8 273.1L1280.3 277.1L1276 282.6L1270 285.9L1264 286.7L1258 285.1L1252.7 281.1L1249 275.1L1247.7 269.1L1247.9 265.1L1248.9 261.1L1252.5 255.1ZM1611.8 267L1623.8 266L1633.8 266.5L1643.8 268.5L1651.8 271.6L1657.8 275.7L1662 281.1L1663.1 287.1L1661.2 293.1L1656.2 299.2L1647.8 304.7L1637.8 308.7L1627.8 311L1615.8 312.1L1603.8 311.3L1593.8 308.9L1586.3 305.2L1581.7 301.2L1579.9 298.6L1578.4 295.2L1578 289.1L1580.4 283.1L1585.8 277.3L1592.4 273.1L1601.8 269.3ZM1198 361L1206 359.5L1212 359.7L1216 360.5L1224 363.8L1230 368.9L1233.7 375.3L1237.2 387.3L1243.2 401.3L1243.6 405.3L1243.3 407.3L1242.4 409.3L1240.7 411.3L1238 412.8L1234 413.6L1230 413.2L1226 412.1L1210 403.6L1194 397.3L1190 394.8L1186.2 391.3L1183.6 387.3L1182.2 383.3L1182 377.3L1183.2 373.3L1185.7 369.3L1189.8 365.2L1194 362.6Z" fill="#ffaaaa"/>
<path d="M1374.3 553.5L1375.6 550.8L1378.5 547.8L1381.9 544.5L1388.5 541.4L1396 538.2L1402.7 535.3L1409.4 531.6L1416.9 529.7L1424.4 527.6L1427.7 525.9L1430.6 525.3L1434.4 526.4L1441.9 528.6L1446.1 531.6L1451.1 534.7L1458.6 538.1L1463.6 538.7L1470.3 540.3L1477.8 541.4L1484.4 544.5L1491.1 548.7L1494.4 551.2L1497.8 553.5" fill="#000"/>
<path d="M1232 284.5C1231.7 280.4 1232.5 274.3 1234.3 267C1236.2 259.6 1240.2 247.9 1243.1 240.6C1246 233.3 1248.5 227 1251.9 223C1255.3 219 1258.7 216.8 1263.6 216.6C1268.5 216.3 1274.9 219.5 1281.2 221.6C1287.5 223.6 1294.9 228.1 1301.7 228.9C1308.5 229.6 1314.9 228.1 1322.2 225.9C1329.5 223.8 1337.8 218.4 1345.7 215.7C1353.5 213 1361.8 210.7 1369.1 209.8C1376.4 209 1383.7 209 1389.6 210.4C1395.5 211.9 1400.4 214.6 1404.3 218.6C1408.2 222.7 1410.1 228.6 1413 234.7C1416 240.8 1418.7 248.9 1421.8 255.2C1425 261.6 1430.9 267.9 1432.1 272.8C1433.3 277.7 1431.8 280.2 1429.2 284.5C1426.5 288.9 1420.6 294.3 1416 299.2C1411.3 304.1 1405.7 310 1401.3 313.8C1396.9 317.7 1394 321.3 1389.6 322.1C1385.2 322.8 1380.3 320.3 1375 318.2C1369.6 316.1 1363.7 311.7 1357.4 309.5C1351 307.3 1343.7 305.5 1336.9 305.1C1330 304.6 1323.7 307 1316.4 306.5C1309 306 1300.7 303.8 1292.9 302.1C1285.1 300.4 1276.8 297.5 1269.5 296.3C1262.2 295 1254.6 295.5 1249 294.8C1243.4 294.1 1238.6 293.6 1235.8 291.9C1233 290.2 1232.2 288.7 1232 284.5Z" fill="none" stroke="#808080" stroke-width="3.1" stroke-linejoin="round"/>
<path d="M1241.6 275.8C1241.6 271.6 1243.1 264 1244.6 258.2C1246 252.3 1248.2 245.2 1250.4 240.6C1252.6 236 1255.1 232.4 1257.8 230.3C1260.4 228.3 1262.2 228 1266.5 228.3C1270.9 228.6 1277.8 230.8 1284.1 232.4C1290.5 234 1297.8 237.4 1304.6 237.7C1311.5 238 1318.3 236.1 1325.1 234.2C1332 232.2 1338.3 228.5 1345.7 225.9C1353 223.4 1362.3 220 1369.1 218.6C1375.9 217.3 1381.6 216.8 1386.7 217.7C1391.8 218.7 1396.4 220.9 1399.9 224.5C1403.3 228 1404.7 233.5 1407.2 239.1C1409.6 244.8 1413 252.8 1414.5 258.2C1416 263.6 1417.2 267 1416 271.4C1414.8 275.8 1411.1 280.6 1407.2 284.5C1403.3 288.5 1397.9 292.6 1392.5 294.8C1387.2 297 1381.3 297.7 1375 297.7C1368.6 297.7 1361.3 295.5 1354.4 294.8C1347.6 294.1 1340.8 292.9 1333.9 293.3C1327.1 293.8 1320.3 297.7 1313.4 297.7C1306.6 297.7 1299.8 294.8 1292.9 293.3C1286.1 291.9 1278.8 289.9 1272.4 288.9C1266.1 288 1259.5 288.5 1254.8 287.5C1250.2 286.5 1246.8 285 1244.6 283.1C1242.4 281.1 1241.6 279.9 1241.6 275.8Z" fill="none" stroke="#808080" stroke-width="3.1" stroke-linejoin="round"/>
<path d="M1260.7 267C1260.7 264.3 1260.4 259.4 1262.2 256.7C1263.9 254 1266.8 251.6 1270.9 250.9C1275.1 250.1 1281 251.3 1287.1 252.3C1293.2 253.3 1300.7 256.2 1307.6 256.7C1314.4 257.2 1322.2 257.2 1328.1 255.2C1333.9 253.3 1337.8 248.4 1342.7 245C1347.6 241.6 1352 237.5 1357.4 234.7C1362.7 232 1369.6 228.5 1375 228.3C1380.3 228 1385.7 230.5 1389.6 233.3C1393.5 236.1 1396.9 240.8 1398.4 245C1399.9 249.1 1399.9 254.3 1398.4 258.2C1396.9 262.1 1394 266.2 1389.6 268.4C1385.2 270.6 1378.4 271.1 1372 271.4C1365.7 271.6 1358.4 269.7 1351.5 269.9C1344.7 270.1 1337.8 271.6 1331 272.8C1324.2 274.1 1317.3 276 1310.5 277.2C1303.7 278.4 1296.3 280.2 1290 280.2C1283.6 280.2 1277 278.4 1272.4 277.2C1267.8 276 1264.1 274.5 1262.2 272.8C1260.2 271.1 1260.7 269.7 1260.7 267Z" fill="none" stroke="#808080" stroke-width="3.1" stroke-linejoin="round"/>
<path d="M1342.7 504.3C1342.7 501.4 1344.9 497.7 1347.1 495.5C1349.3 493.3 1353 491.1 1355.9 491.1C1358.8 491.1 1362.3 493.3 1364.7 495.5C1367.1 497.7 1369.1 501.1 1370.6 504.3C1372 507.5 1373.7 512.1 1373.5 514.6C1373.2 517 1371.8 518.3 1369.1 518.9C1366.4 519.6 1361 519.3 1357.4 518.4C1353.7 517.4 1349.6 515.4 1347.1 513.1C1344.7 510.7 1342.7 507.2 1342.7 504.3Z" fill="none" stroke="#808080" stroke-width="3.1" stroke-linejoin="round"/>
<path d="M1559.5 325.6C1559.3 318.7 1561.5 314.3 1563.9 310.9C1566.4 307.5 1570 305.1 1574.2 305.1C1578.3 305.1 1584 307.5 1588.8 310.9C1593.7 314.3 1599.6 320.2 1603.5 325.6C1607.4 330.9 1611.3 337.3 1612.3 343.1C1613.3 349 1611.8 355.8 1609.4 360.7C1606.9 365.6 1601.5 369.5 1597.6 372.4C1593.7 375.4 1589.8 378.8 1585.9 378.3C1582 377.8 1577.6 373.9 1574.2 369.5C1570.8 365.1 1567.8 359.3 1565.4 351.9C1563 344.6 1559.8 332.4 1559.5 325.6Z" fill="none" stroke="#808080" stroke-width="3.1" stroke-linejoin="round"/>
<path d="M1540.5 518.9C1541.1 514.1 1542.2 507.7 1544.9 501.4C1547.6 495 1552.2 486 1556.6 480.9C1561 475.7 1566.9 472.6 1571.3 470.6C1575.7 468.6 1579.1 467.4 1583 469.1C1586.9 470.8 1590.8 475.5 1594.7 480.9C1598.6 486.2 1603 494.5 1606.4 501.4C1609.8 508.2 1614.2 516 1615.2 521.9C1616.2 527.7 1615.7 533.1 1612.3 536.5C1608.9 539.9 1601.5 541.2 1594.7 542.4C1587.9 543.6 1578.6 544.3 1571.3 543.9C1563.9 543.4 1555.7 541.7 1550.8 539.5C1545.8 537.3 1543.1 534.1 1541.4 530.7C1539.7 527.2 1539.9 523.8 1540.5 518.9Z" fill="none" stroke="#808080" stroke-width="3.1" stroke-linejoin="round"/>
<path d="M1158.1 429.6C1162 428.6 1173.3 424.7 1181.6 423.7C1189.9 422.7 1199.2 422.7 1207.9 423.7C1216.7 424.7 1225.5 427.8 1234.3 429.6C1243.1 431.4 1252.9 433 1260.7 434.6C1268.5 436.2 1277.8 437.2 1281.2 439.3C1284.6 441.4 1283.6 444.1 1281.2 447.2C1278.8 450.2 1272.4 454 1266.5 457.4C1260.7 460.8 1252.4 464.5 1246 467.7C1239.7 470.8 1233.3 472.8 1228.5 476.5C1223.6 480.1 1220.6 485.5 1216.7 489.6C1212.8 493.8 1209.4 498.9 1205 501.4C1200.6 503.8 1195.3 504.8 1190.4 504.3C1185.5 503.8 1181.1 501.4 1175.7 498.4C1170.3 495.5 1161.1 488.7 1158.1 486.7" fill="none" stroke="#808080" stroke-width="3.1" stroke-linejoin="round"/>
<path d="M1679.7 560C1680.7 554.6 1685.5 538 1685.5 527.7C1685.5 517.5 1681.6 508.2 1679.7 498.4C1677.7 488.7 1674.5 478.9 1673.8 469.1C1673.1 459.4 1672.8 448.1 1675.3 439.8C1677.7 431.5 1683.3 425.7 1688.5 419.3C1693.6 413 1702 408.1 1706 401.7C1710 395.4 1712 387.6 1712.5 381.2C1713 374.9 1712.5 368.5 1709 363.7C1705.5 358.8 1697.7 355.4 1691.4 351.9C1685 348.5 1676.7 347.1 1670.9 343.1C1665 339.2 1661.6 334.4 1656.2 328.5C1650.9 322.6 1645.5 313.8 1638.7 308C1631.8 302.1 1622.5 298 1615.2 293.3C1607.9 288.7 1600.6 283.8 1594.7 280.2C1588.8 276.5 1584.5 273.1 1580.1 271.4C1575.7 269.7 1572.7 269.2 1568.3 269.9C1563.9 270.6 1558.1 272.3 1553.7 275.8C1549.3 279.2 1544.7 284.1 1542 290.4C1539.3 296.8 1538.5 304.6 1537.6 313.8C1536.6 323.1 1535.6 336.3 1536.1 346.1C1536.6 355.8 1538.1 364.1 1540.5 372.4C1542.9 380.7 1547.6 388.6 1550.8 395.9C1553.9 403.2 1557.8 410 1559.5 416.4C1561.3 422.7 1562 428.1 1561 434C1560 439.8 1556.9 445.7 1553.7 451.6C1550.5 457.4 1545.9 463.3 1542 469.1C1538.1 475 1533.7 480.9 1530.2 486.7C1526.8 492.6 1522.9 498.4 1521.5 504.3C1520 510.2 1520 516 1521.5 521.9C1522.9 527.7 1526.3 534.6 1530.2 539.5C1534.2 544.3 1537.6 547.8 1544.9 551.2C1552.2 554.6 1569.3 558.5 1574.2 560" fill="none" stroke="#808080" stroke-width="3.1" stroke-linejoin="round"/>
<path d="M1662.1 560C1662.3 555.1 1664.5 539.9 1663.6 530.7C1662.6 521.4 1659.4 512.6 1656.2 504.3C1653.1 496 1648.9 488.2 1644.5 480.9C1640.1 473.5 1634.7 466.7 1629.9 460.3C1625 454 1619.1 448.4 1615.2 442.8C1611.3 437.2 1606.4 431 1606.4 426.7C1606.4 422.3 1611.3 418.1 1615.2 416.4C1619.1 414.7 1625 416.2 1629.9 416.4C1634.7 416.6 1639.6 418.8 1644.5 417.9C1649.4 416.9 1654.3 413.7 1659.2 410.5C1664 407.4 1669.7 402.7 1673.8 398.8C1678 394.9 1681.6 391 1684.1 387.1C1686.5 383.2 1689.7 378.8 1688.5 375.4C1687.2 372 1681.1 370 1676.7 366.6C1672.4 363.2 1667 359.8 1662.1 354.9C1657.2 350 1652.8 343.1 1647.4 337.3C1642.1 331.4 1636.2 325.1 1629.9 319.7C1623.5 314.3 1616.2 309.9 1609.4 305.1C1602.5 300.2 1594.7 294.4 1588.8 290.4C1583 286.4 1578.6 282.3 1574.2 281C1569.8 279.8 1566.4 280.8 1562.5 283.1C1558.6 285.4 1553.7 289.7 1550.8 294.8C1547.8 299.9 1546.1 305.3 1544.9 313.8C1543.7 322.4 1542.9 336.8 1543.4 346.1C1543.9 355.4 1545.4 361.7 1547.8 369.5C1550.3 377.3 1554.7 385.6 1558.1 393C1561.5 400.3 1565.9 407.6 1568.3 413.5C1570.8 419.3 1572.7 422.7 1572.7 428.1C1572.7 433.5 1571 439.8 1568.3 445.7C1565.7 451.6 1561 457.4 1556.6 463.3C1552.2 469.1 1546.4 474.5 1542 480.9C1537.6 487.2 1532.7 495 1530.2 501.4C1527.8 507.7 1526.6 513.6 1527.3 518.9C1528 524.3 1531.7 529.2 1534.6 533.6C1537.6 538 1539.3 540.9 1544.9 545.3C1550.5 549.7 1564.4 557.5 1568.3 560" fill="none" stroke="#808080" stroke-width="3.1" stroke-linejoin="round"/>
<path d="M1538.5 183V553.5" stroke="#000" stroke-width="3.1" stroke-dasharray="12 4.75" stroke-dashoffset="7.6" fill="none"/>
</g>
<path d="M1164 182V554.2" stroke="#000" stroke-width="2.0"/>
<path d="M1725.8 182V554.2" stroke="#000" stroke-width="1.6"/>
<path d="M1163 183H1726.4" stroke="#000" stroke-width="2.0"/>
<path d="M1163 553.5H1726.4" stroke="#000" stroke-width="1.5"/>
<path d="M1156.2 183h7.8M1156.2 275.6h7.8M1156.2 368.2h7.8M1156.2 460.9h7.8M1156.2 553.5h7.8M1164 553.5v7.8M1351.3 553.5v7.8M1538.5 553.5v7.8M1725.8 553.5v7.8" stroke="#000" stroke-width="1.9" fill="none"/>
<text class="ts" x="1149" y="192" font-size="26.3" text-anchor="end">200</text>
<text class="ts" x="1149" y="284.6" font-size="26.3" text-anchor="end">400</text>
<text class="ts" x="1149" y="377.2" font-size="26.3" text-anchor="end">600</text>
<text class="ts" x="1149" y="469.9" font-size="26.3" text-anchor="end">800</text>
<text class="ts" x="1149" y="562.5" font-size="26.3" text-anchor="end">1000</text>
<text class="ts" font-size="25.3" text-anchor="middle" transform="translate(1068 370.1) rotate(-90)">hPa</text>
<text class="ts" font-size="45.5" text-anchor="middle" transform="translate(1444.3 170.6) scale(1.024 1)">(e) 15 November</text>
</g>
<g id="pf">
<clipPath id="cf"><rect x="1164" y="628.2" width="561.8" height="370.5"/></clipPath>
<g clip-path="url(#cf)">
<path d="M1641.8 692.2L1653.8 691L1661.8 691.5L1667.8 692.5L1679.8 696.2L1685.8 699.4L1690 702.3L1694.3 706.3L1697.3 710.3L1699.3 714.3L1700.4 718.3L1700.6 724.3L1699.7 728.3L1698 732.3L1695.3 736.3L1689.1 742.4L1679.8 747.7L1669.8 751L1657.8 752.8L1647.8 752.6L1635.8 750.4L1625.8 746.6L1617.8 741.4L1611.8 734.8L1608.7 728.3L1607.9 724.3L1607.8 720.3L1608.6 716.3L1610.2 712.3L1614.5 706.3L1621.8 700.1L1631.8 694.9ZM1363.9 780.1L1373.9 779.3L1379.9 780.2L1383.9 781.4L1387.9 783.2L1392.7 786.4L1396.7 790.4L1399.3 794.4L1401 798.4L1401.9 802.4L1402 808.4L1401 812.4L1399.2 816.5L1396.3 820.5L1391.9 824.4L1387.9 826.9L1381.9 829.2L1375.9 830.4L1367.9 830.4L1361.9 829.2L1355.9 826.8L1351.9 824.4L1347.5 820.5L1343.9 815.3L1342.1 810.4L1341.5 804.4L1342.5 798.4L1344.1 794.4L1347.9 789L1351.9 785.4L1357.9 782ZM1499.9 914.5L1505.9 912.8L1509.9 913.1L1513.9 914.6L1519.9 919.5L1535.9 936.6L1538.2 940.6L1539.7 944.6L1545.6 964.7L1545.3 970.7L1543.9 973.8L1541.2 976.7L1537.9 978.3L1533.9 978.7L1529.9 977.6L1527.9 976.5L1517.9 967.7L1509.9 959L1506.7 954.6L1494.5 934.6L1492.6 928.6L1492.7 924.6L1494.1 920.6L1497.1 916.6ZM1491.9 974.6L1495.9 973.3L1501.9 973.1L1505.9 974.1L1509.9 976.5L1511.7 978.7L1512.9 982.7L1512.1 986.7L1510.8 988.7L1508.8 990.7L1505.9 992.4L1499.9 993.7L1493.9 992.9L1489.6 990.7L1486.3 986.7L1485.6 982.7L1487 978.7L1488.8 976.7Z" fill="#aaaaff"/>
<path d="M1653.8 702.3L1661.8 703L1669.8 705.3L1675.8 708.6L1681.4 714.3L1683.6 720.3L1683 726.3L1679.3 732.3L1673.8 736.6L1667.8 739.4L1659.8 741.3L1651.8 741.6L1645.8 740.9L1639.8 739.3L1633.6 736.3L1628.6 732.3L1625.8 728.3L1624.4 724.3L1624.7 718.3L1626.5 714.3L1630 710.3L1633.8 707.5L1639.8 704.6L1645.8 703ZM1513.9 933.6L1517.9 934.3L1521.9 936.5L1527.3 940.6L1529.9 944L1531.5 948.6L1532.3 954.6L1531.6 958.6L1529.9 960.2L1525.9 959.6L1521.9 957.3L1517.9 954L1515.2 950.6L1512.6 944.6L1511.2 938.6L1511.9 934.6Z" fill="#8080ff"/>
<path d="M1647.8 715.7L1653.8 714.5L1657.8 715L1661.4 716.3L1663.9 718.3L1665 720.3L1665.3 722.3L1664.7 724.3L1661.8 727.3L1657.8 729L1651.8 729.3L1647.8 728.3L1644.7 726.3L1643.2 724.3L1642.6 722.3L1642.9 720.3L1644 718.3Z" fill="#5555ff"/>
<path d="M1208 628.2L1220.3 628.2L1218 630.4L1214 631.3L1209.3 630.2L1207.4 628.2ZM1278 629.7L1279.7 628.2L1346.1 628.2L1348.9 632.2L1363.9 645.6L1367.9 650.2L1370.4 656.2L1371.2 664.2L1370.9 686.3L1368.3 698.3L1364 708.3L1357.5 718.3L1349.9 726.4L1339.9 733.8L1331.9 737.5L1325.9 738.9L1319.9 739.2L1313.9 738L1309.9 736L1305.8 732.3L1302.1 726.3L1300.4 720.3L1299.9 714.3L1300.6 706.3L1302.7 698.3L1306.1 690.3L1309.4 684.3L1313.7 678.3L1319.1 672.3L1327.5 664.2L1330.2 660.2L1330.7 658.2L1330 654.2L1327.3 650.2L1323.9 648.3L1317.9 646.9L1307.9 645.3L1304 645.6L1292 650L1287.6 652.2L1284 655.4L1274 667L1270 670.3L1266 671.6L1262 671.1L1258 668.5L1256.4 666.3L1255.7 664.2L1255.5 660.2L1258 654.4L1270 636.2L1272 634ZM1439.9 628.2L1522.7 628.2L1521.5 636.2L1517.1 652.2L1516.9 656.2L1518.5 662.2L1520.6 666.3L1523.7 670.3L1541.9 686.7L1546.5 692.3L1550.4 698.3L1556.6 712.3L1564.2 736.3L1567.4 744.4L1572.6 754.4L1583.7 772.4L1586.7 780.4L1587.4 790.4L1585.7 832.5L1584.8 836.5L1582.9 840.5L1579.9 844.4L1575.9 847.5L1569.9 849.7L1565.9 850.1L1561.9 849.7L1555.9 847.3L1550.5 842.5L1547 836.5L1525.9 786.4L1523.9 783.6L1521.9 782.1L1517.9 781.4L1513.9 782.3L1507.9 785.3L1495.9 793.1L1489.9 796.4L1481.9 799.2L1475.9 799.9L1467.9 798.9L1459.9 795.3L1453.9 790.3L1448 782.4L1443.5 772.4L1440.9 760.4L1440.4 748.4L1441.7 732.3L1443.7 720.3L1446.5 710.3L1450.8 700.3L1460.6 682.3L1462.7 676.3L1463.2 672.3L1462.5 668.3L1461.3 666.3L1449.2 654.2L1443.5 646.2L1440.8 640.2L1439 634.2L1438.2 628.2ZM1579.9 628.2L1611.2 628.2L1612.3 640.2L1611.8 646.2L1610.6 652.2L1608.2 658.2L1605.8 661.9L1603.8 664.2L1599.8 667.1L1597.8 668L1593.8 668.5L1589.8 667.5L1585.4 664.2L1581.2 658.2L1578.3 650.2L1577.2 642.2L1578.2 628.2ZM1294 784.3L1298 783L1302 783.2L1304 784.1L1306.5 786.4L1308.7 790.4L1309.7 794.4L1310.2 800.4L1309.7 806.4L1308.4 812.4L1306.3 818.5L1304 823.1L1300 828.4L1294 833.1L1290 834.4L1286 834.3L1282 832.2L1280 830L1278.1 826.5L1276.6 818.5L1277.3 810.4L1279.5 802.4L1283.5 794.4L1288 788.8ZM1569.9 890.3L1571.9 889.4L1573.9 889.3L1577.9 890.7L1581.9 894.2L1584.8 898.6L1587.1 904.6L1587.6 910.6L1586.5 914.6L1583.9 917.4L1579.9 917.9L1575.9 916.2L1572 912.6L1569.4 908.6L1567.7 904.6L1566.7 898.6L1567.9 892.6ZM1659.8 892.1L1663.8 890.9L1667.8 890.9L1671.8 892.2L1675.8 894.9L1679.8 899.3L1683 904.6L1685.5 910.6L1687.5 918.6L1688.9 932.6L1688 976.7L1686.9 982.7L1685.6 986.7L1678.7 998.7L1588.1 998.7L1582.7 988.7L1581.1 982.7L1580.9 978.7L1581.5 974.7L1582.8 970.7L1585 966.7L1588.1 962.7L1591.8 959.1L1599.8 953.8L1609.8 949.6L1629.8 944.4L1633.5 942.6L1635.8 940.8L1637.8 938.3L1639.8 934.1L1644.5 914.6L1648.2 904.6L1650.5 900.6L1653.8 896.4ZM1415.9 904.3L1419.9 904.4L1423.9 906.2L1449.9 924.4L1451.9 926.7L1453.3 930.6L1452.7 934.6L1451.5 936.6L1447.9 939.2L1445.9 939.6L1441.9 939L1433.4 934.6L1411.9 922L1408.9 918.6L1408.1 916.6L1407.8 912.6L1409.3 908.6L1411.1 906.6L1413.9 904.8Z" fill="#ffaaaa"/>
<path d="M1493.9 628.2L1498.4 628.2L1497.9 629L1495.9 630L1493.9 628.7L1493.5 628.2ZM1349.9 663.8L1351.9 663.2L1354 664.2L1357.9 673.5L1360.2 682.3L1360.5 686.3L1360.1 692.3L1358.6 698.3L1356.2 704.3L1352.6 710.3L1347.9 716L1343.2 720.3L1337.9 723.9L1333.9 725.7L1327.9 727.2L1321.9 726.9L1317.9 725.3L1315.9 723.9L1313 720.3L1311.3 716.3L1310.5 712.3L1310.4 708.3L1311.2 702.3L1314.9 692.3L1320.1 684.3L1327.9 676.4L1333.9 672.3ZM1489.9 669.9L1493.9 669.5L1499.9 672.6L1512.2 684.3L1527.9 696.7L1532.8 702.3L1537.7 710.3L1546.7 730.3L1550.4 746.4L1552.6 752.4L1557.2 760.4L1569.9 778L1571.8 782.4L1572.4 786.4L1572.3 790.4L1569.9 805.4L1567.3 812.4L1565.9 814.6L1563.9 815.9L1561.9 816L1557.9 813.4L1553.9 808.5L1547.9 798.5L1544.9 792.4L1543.7 788.4L1542 774.4L1540.1 766.4L1537.9 762.2L1533.9 759L1529.9 757.9L1523.9 758.5L1489.9 771.3L1483.9 773L1479.9 773.4L1473.9 772.6L1469.9 770.6L1465.9 766.8L1463.9 763.8L1461.9 759.2L1460.6 754.4L1459.3 744.4L1459.6 730.3L1461.8 718.3L1465.9 708.1L1476.9 690.3L1483.9 676L1485.9 673.1Z" fill="#ff8080"/>
<path d="M1339.9 680L1343.9 680.1L1345.9 680.7L1347.9 682L1349.9 684.6L1351.2 688.3L1351.5 692.3L1349.6 700.3L1347.6 704.3L1344.7 708.3L1341.9 711.2L1337.9 714.3L1331.9 716.7L1327.9 716.9L1325.9 716.5L1322.4 714.3L1320 710.3L1319.4 704.3L1320.7 698.3L1323.5 692.3L1328.4 686.3L1333.9 682.2ZM1499.9 700.3L1503.9 700.7L1509.9 702.6L1515.9 706.3L1519.9 710.3L1522.5 714.3L1525 720.3L1526.1 726.3L1525.9 730.3L1524.6 734.3L1521.8 738.3L1517.4 742.4L1511.9 745.8L1505.9 748.4L1499.9 749.9L1493.9 750.3L1489.9 749.9L1485.9 748.6L1482.4 746.4L1479.9 743.6L1478 740.4L1476 732.3L1476 726.3L1476.6 722.3L1479.9 713.9L1482.3 710.3L1485.9 706.4L1491.9 702.2L1495.9 700.8Z" fill="#ff5555"/>
<path d="M1374.3 998.7L1375.6 996L1378.5 993L1381.9 989.7L1388.5 986.6L1396 983.4L1402.7 980.5L1409.4 976.8L1416.9 974.9L1424.4 972.8L1427.7 971.1L1430.6 970.5L1434.4 971.6L1441.9 973.8L1446.1 976.8L1451.1 979.9L1458.6 983.3L1463.6 983.9L1470.3 985.5L1477.8 986.6L1484.4 989.7L1491.1 993.9L1494.4 996.4L1497.8 998.7" fill="#000"/>
<path d="M1297.3 714.9C1297.7 707.6 1299 701.7 1301.7 694.4C1304.4 687.1 1309.5 677.1 1313.4 670.9C1317.3 664.8 1320.8 660.5 1325.1 657.8C1329.5 655.1 1334.9 654.1 1339.8 654.8C1344.7 655.6 1350.1 658.5 1354.4 662.2C1358.8 665.8 1363.5 671.4 1366.2 676.8C1368.9 682.2 1370.6 688.5 1370.6 694.4C1370.6 700.2 1369.3 706.6 1366.2 712C1363 717.3 1356.9 722.2 1351.5 726.6C1346.1 731 1339.8 734.7 1333.9 738.3C1328.1 742 1321 746.6 1316.4 748.6C1311.7 750.5 1308.9 751.8 1306.1 750.1C1303.3 748.3 1300.8 744.2 1299.4 738.3C1297.9 732.5 1296.9 722.2 1297.3 714.9Z" fill="none" stroke="#808080" stroke-width="3.1" stroke-linejoin="round"/>
<path d="M1304.6 714.9C1304.9 708.3 1307.6 700.7 1310.5 694.4C1313.4 688 1317.8 681.2 1322.2 676.8C1326.6 672.4 1332.5 669 1336.9 668C1341.3 667 1345.2 668.3 1348.6 670.9C1352 673.6 1355.7 679.3 1357.4 684.1C1359.1 689 1359.8 695.1 1358.8 700.2C1357.9 705.4 1355.2 710.3 1351.5 714.9C1347.9 719.5 1342.2 724.4 1336.9 728.1C1331.5 731.7 1323.9 735.9 1319.3 736.9C1314.6 737.9 1311.5 737.6 1309 733.9C1306.6 730.3 1304.4 721.5 1304.6 714.9Z" fill="none" stroke="#808080" stroke-width="3.1" stroke-linejoin="round"/>
<path d="M1318.7 714.9C1319.4 712.1 1321.1 705.9 1323.7 701.7C1326.2 697.6 1331 691.9 1333.9 690C1336.9 688 1340 688.3 1341.3 690C1342.5 691.7 1342.5 696.6 1341.3 700.2C1340 703.9 1336.6 709 1333.9 712C1331.3 714.9 1327.6 716.8 1325.1 717.8C1322.7 718.9 1320.4 718.9 1319.3 718.4C1318.2 717.9 1318 717.7 1318.7 714.9Z" fill="none" stroke="#808080" stroke-width="3.1" stroke-linejoin="round"/>
<path d="M1284.1 791.1C1283.6 785.7 1285.6 781.6 1287.1 779.4C1288.5 777.2 1290.5 776.7 1292.9 777.9C1295.4 779.1 1298.8 782.5 1301.7 786.7C1304.6 790.8 1308.6 797.7 1310.5 802.8C1312.4 807.9 1313.3 814 1312.8 817.4C1312.4 820.9 1310.2 822.6 1307.6 823.3C1305 824 1300.2 823.8 1297.3 821.8C1294.4 819.9 1292.2 816.7 1290 811.6C1287.8 806.5 1284.6 796.5 1284.1 791.1Z" fill="none" stroke="#808080" stroke-width="3.1" stroke-linejoin="round"/>
<path d="M1366.2 864.3C1367 862.7 1371 860.2 1373.5 859.9C1376 859.7 1380.4 861.2 1381.4 862.9C1382.4 864.6 1380.7 868.5 1379.4 870.2C1378 871.9 1375.3 873.2 1373.5 873.1C1371.6 873 1369.4 871.1 1368.2 869.6C1367 868.1 1365.3 865.9 1366.2 864.3Z" fill="none" stroke="#808080" stroke-width="3.1" stroke-linejoin="round"/>
<path d="M1551.8 1002.4C1549.7 1000.6 1542.5 994.8 1539.1 991.5C1535.8 988.2 1534.3 985.8 1531.9 982.5C1529.5 979.2 1527.4 975 1524.7 971.6C1522 968.3 1518.7 965 1515.6 962.6C1512.6 960.2 1509.9 958.7 1506.6 957.2C1503.3 955.7 1500.3 954.8 1495.8 953.6C1491.3 952.4 1484.9 951.5 1479.5 950C1474.1 948.5 1468.4 946.7 1463.2 944.5C1458.1 942.4 1453 940 1448.8 937.3C1444.6 934.6 1441 932.2 1437.9 928.3C1434.9 924.4 1432.2 918.6 1430.7 913.8C1429.2 909 1428.9 904.2 1428.9 899.4C1428.9 894.5 1429.8 889.4 1430.7 884.9C1431.6 880.4 1433.4 876.2 1434.3 872.3C1435.2 868.3 1436.3 865.6 1436.1 861.4C1436 857.2 1434.8 852.7 1433.4 847C1432.1 841.2 1429.8 834 1428 827.1C1426.2 820.2 1424.2 812.6 1422.6 805.4C1420.9 798.2 1419.3 790.9 1418.1 783.7C1416.9 776.5 1415.7 769.3 1415.4 762C1415.1 754.8 1415.2 746.4 1416.3 740.4C1417.3 734.3 1419.3 730.4 1421.7 725.9C1424.1 721.4 1426.8 717.2 1430.7 713.2C1434.6 709.3 1440.4 705.9 1445.2 702.4C1450 698.9 1455.1 695.6 1459.6 692.5C1464.1 689.3 1468.1 686.3 1472.3 683.4C1476.5 680.6 1480.7 677.1 1484.9 675.3C1489.1 673.5 1493.4 672.6 1497.6 672.6C1501.8 672.6 1506.3 673.5 1510.2 675.3C1514.1 677.1 1517.8 680.1 1521.1 683.4C1524.4 686.7 1527.5 690.8 1530.1 695.2C1532.7 699.5 1534.8 704.8 1536.4 709.6C1538.1 714.5 1539 719.3 1540 724.1C1541.1 728.9 1541.4 734.3 1542.8 738.5C1544.1 742.8 1545.8 746.5 1548.2 749.4C1550.6 752.2 1553.9 753.6 1557.2 755.7C1560.5 757.8 1564.6 759.5 1568.1 762C1571.5 764.6 1575.3 768.1 1578 771.1C1580.7 774.1 1583.1 776.5 1584.3 780.1C1585.5 783.7 1585.7 788.2 1585.2 792.8C1584.8 797.3 1583.1 802.1 1581.6 807.2C1580.1 812.3 1577.5 818.4 1576.2 823.5C1574.8 828.6 1573.9 833.1 1573.5 837.9C1573 842.7 1572.7 847.6 1573.5 852.4C1574.2 857.2 1575.9 862.3 1578 866.8C1580.1 871.4 1583 875.6 1586.1 879.5C1589.3 883.4 1593.4 886.9 1597 890.3C1600.6 893.8 1603.9 897.7 1607.8 900.3C1611.7 902.8 1616.2 905.1 1620.5 905.7C1624.7 906.3 1629.2 905.2 1633.1 903.9C1637 902.5 1640.3 899.5 1643.9 897.6C1647.6 895.6 1651.2 893.2 1654.8 892.1C1658.4 891.1 1662 890.6 1665.6 891.2C1669.2 891.8 1673.5 893.5 1676.5 895.8C1679.5 898 1682 901.2 1683.7 904.8C1685.4 908.4 1685.8 912.9 1686.4 917.4C1687 922 1686.9 927.1 1687.3 931.9C1687.8 936.7 1689 941.5 1689.1 946.3C1689.3 951.2 1688.2 956.3 1688.2 960.8C1688.2 965.3 1688.5 969.8 1689.1 973.5C1689.7 977.1 1691.8 979.2 1691.8 982.5C1691.8 985.8 1689.9 990 1689.1 993.3C1688.4 996.6 1687.6 1000.9 1687.3 1002.4" fill="none" stroke="#808080" stroke-width="3.1" stroke-linejoin="round"/>
<path d="M1571.7 1002.4C1569.3 1001.5 1561.7 999.4 1557.2 996.9C1552.7 994.5 1547.9 991.2 1544.6 987.9C1541.2 984.6 1539.7 981 1537.3 977.1C1534.9 973.2 1532.5 968.3 1530.1 964.4C1527.7 960.5 1525.6 956.6 1522.9 953.6C1520.2 950.6 1517.5 947.7 1513.8 946.3C1510.2 945 1506 945.7 1501.2 945.4C1496.4 945.1 1490.4 945.3 1484.9 944.5C1479.5 943.8 1473.8 942.7 1468.7 940.9C1463.5 939.1 1458.1 936.7 1454.2 933.7C1450.3 930.7 1447.3 927.1 1445.2 922.9C1443.1 918.6 1442 913.2 1441.6 908.4C1441.1 903.6 1441.7 898.8 1442.5 893.9C1443.2 889.1 1445 884 1446.1 879.5C1447.1 875 1448.5 871.4 1448.8 866.8C1449.1 862.3 1448.6 857.8 1447.9 852.4C1447.1 847 1445.6 840.6 1444.3 834.3C1442.9 828 1441.3 821.1 1439.8 814.4C1438.2 807.8 1436.6 801.5 1435.2 794.6C1433.9 787.6 1432.4 780.1 1431.6 772.9C1430.9 765.6 1430.4 757.8 1430.7 751.2C1431 744.6 1432.1 738.2 1433.4 733.1C1434.8 728 1436 724.4 1438.9 720.5C1441.7 716.6 1446.5 713.1 1450.6 709.6C1454.7 706.2 1459 702.9 1463.2 699.7C1467.5 696.5 1472 693.4 1475.9 690.7C1479.8 687.9 1483 685.1 1486.7 683.4C1490.5 681.8 1494.6 680.7 1498.5 680.7C1502.4 680.7 1506.6 681.6 1510.2 683.4C1513.8 685.2 1517.3 688.1 1520.2 691.6C1523 695 1525.6 699.7 1527.4 704.2C1529.2 708.7 1530.4 714.1 1531 718.7C1531.6 723.2 1531.8 727.4 1531 731.3C1530.3 735.2 1528.4 738.5 1526.5 742.2C1524.5 745.8 1521.4 749.1 1519.3 753C1517.2 756.9 1514.9 761.7 1513.8 765.6C1512.8 769.6 1512.3 772.3 1512.9 776.5C1513.5 780.7 1515.8 786.1 1517.5 790.9C1519.1 795.8 1521.5 800.6 1522.9 805.4C1524.2 810.2 1525.6 815 1525.6 819.9C1525.6 824.7 1524.5 829.8 1522.9 834.3C1521.2 838.8 1518.1 843.4 1515.6 847C1513.2 850.6 1510.5 853.1 1508.4 856C1506.3 858.9 1503.9 861.6 1503 864.1C1502.1 866.7 1501.8 868.9 1503 871.4C1504.2 873.8 1507.8 876.3 1510.2 878.6C1512.6 880.8 1515.3 882.4 1517.5 884.9C1519.6 887.5 1521.4 891.1 1522.9 893.9C1524.4 896.8 1525.4 900.3 1526.5 902.1C1527.5 903.9 1528.1 905.1 1529.2 904.8C1530.3 904.5 1531.8 902.4 1532.8 900.3C1533.9 898.2 1534.3 895 1535.5 892.1C1536.7 889.3 1538.2 885.5 1540 883.1C1541.9 880.7 1544.1 879 1546.4 877.7C1548.6 876.3 1550.9 875 1553.6 875C1556.3 875 1559.6 876 1562.6 877.7C1565.6 879.3 1568.7 881.9 1571.7 884.9C1574.7 887.9 1578 891.8 1580.7 895.8C1583.4 899.7 1585.5 904.5 1587.9 908.4C1590.3 912.3 1592.4 916.2 1595.2 919.2C1597.9 922.3 1601.2 923.8 1604.2 926.5C1607.2 929.2 1610.8 932.2 1613.2 935.5C1615.6 938.8 1617.1 942.1 1618.6 946.3C1620.2 950.6 1621.8 956.3 1622.3 960.8C1622.7 965.3 1622.6 969.5 1621.4 973.5C1620.2 977.4 1617.3 981 1615 984.3C1612.8 987.6 1609.6 990.3 1607.8 993.3C1606 996.3 1604.8 1000.9 1604.2 1002.4" fill="none" stroke="#808080" stroke-width="3.1" stroke-linejoin="round"/>
<path d="M1499.4 688.9C1495.5 688.4 1492.2 689.9 1488.5 691.6C1484.9 693.2 1481.3 696.1 1477.7 698.8C1474.1 701.5 1470.5 704.5 1466.9 707.8C1463.2 711.1 1459.2 715.1 1456 718.7C1452.9 722.3 1450 725.3 1447.9 729.5C1445.8 733.7 1444.4 738.5 1443.4 744C1442.4 749.4 1441.9 755.4 1441.9 762C1441.9 768.7 1442.4 776.5 1443.4 783.7C1444.4 790.9 1446.2 798.5 1447.9 805.4C1449.5 812.3 1451.3 819 1453.3 825.3C1455.3 831.6 1457.7 837.9 1459.6 843.4C1461.6 848.8 1463.4 853.6 1465.1 857.8C1466.7 862 1468.4 866.7 1469.6 868.6C1470.8 870.6 1470.9 870.5 1472.3 869.6C1473.6 868.6 1475.3 865.8 1477.7 863.2C1480.1 860.7 1483.7 857.2 1486.7 854.2C1489.7 851.2 1493.1 848.2 1495.8 845.2C1498.5 842.1 1500.9 839.4 1503 836.1C1505.1 832.8 1507.2 829.2 1508.4 825.3C1509.6 821.4 1510.4 816.8 1510.2 812.6C1510.1 808.4 1508.6 804.2 1507.5 800C1506.5 795.8 1505 791.2 1503.9 787.3C1502.8 783.4 1501.3 780.1 1501.2 776.5C1501 772.9 1501.8 769 1503 765.6C1504.2 762.3 1506.3 759.3 1508.4 756.6C1510.5 753.9 1513.2 752.1 1515.6 749.4C1518.1 746.7 1521.2 743.7 1522.9 740.4C1524.5 737 1525.3 733.4 1525.6 729.5C1525.9 725.6 1525.6 721.1 1524.7 716.9C1523.8 712.6 1522.3 708 1520.2 704.2C1518.1 700.4 1515.5 696.8 1512 694.3C1508.6 691.7 1503.3 689.3 1499.4 688.9Z" fill="none" stroke="#808080" stroke-width="3.1" stroke-linejoin="round"/>
<path d="M1500.3 698.8C1497.4 699.2 1493.5 700.3 1490.4 702.4C1487.2 704.5 1484.3 708.1 1481.3 711.4C1478.3 714.8 1475.1 718.4 1472.3 722.3C1469.4 726.2 1466.3 730.7 1464.1 734.9C1462 739.1 1460.7 743.1 1459.6 747.6C1458.5 752.1 1457.8 756.6 1457.5 762C1457.2 767.5 1457.3 774.1 1457.8 780.1C1458.3 786.1 1459.5 792.5 1460.5 798.2C1461.6 803.9 1462.6 809.3 1464.1 814.4C1465.7 819.6 1467.5 825.1 1469.6 828.9C1471.7 832.7 1474.5 836 1476.8 837C1479.1 838.1 1480.9 836.7 1483.1 835.2C1485.4 833.7 1488.2 830.6 1490.4 828C1492.5 825.4 1494.7 823.3 1495.8 819.9C1496.8 816.4 1497 811.4 1496.7 807.2C1496.4 803 1495.2 798.5 1494 794.6C1492.8 790.6 1490.5 787.3 1489.4 783.7C1488.4 780.1 1487.5 776.5 1487.6 772.9C1487.8 769.3 1488.7 765.3 1490.4 762C1492 758.7 1494.9 756 1497.6 753C1500.3 750 1503.9 747 1506.6 744C1509.3 741 1511.9 737.9 1513.8 734.9C1515.8 731.9 1517.6 729.2 1518.4 725.9C1519.1 722.6 1519.1 718.4 1518.4 715.1C1517.6 711.7 1515.6 708.6 1513.8 706C1512 703.5 1509.8 700.9 1507.5 699.7C1505.3 698.5 1503.2 698.3 1500.3 698.8Z" fill="none" stroke="#808080" stroke-width="3.1" stroke-linejoin="round"/>
<path d="M1471.4 876.8C1469 877.5 1465.5 880.2 1463.2 883.1C1461 886 1459.3 890 1457.8 893.9C1456.3 897.9 1454.4 902.7 1454.2 906.6C1454.1 910.5 1455.1 914.1 1456.9 917.4C1458.7 920.8 1462.2 924.5 1465.1 926.5C1467.9 928.4 1471.1 929.5 1474.1 929.2C1477.1 928.9 1480.3 926.9 1483.1 924.7C1486 922.4 1489.3 918.9 1491.3 915.6C1493.2 912.3 1494.7 908.4 1494.9 904.8C1495 901.2 1493.8 897.4 1492.2 893.9C1490.5 890.5 1487.3 886.6 1484.9 884C1482.5 881.4 1480 879.8 1477.7 878.6C1475.4 877.4 1473.8 876 1471.4 876.8Z" fill="none" stroke="#808080" stroke-width="3.1" stroke-linejoin="round"/>
<path d="M1566.2 931.9C1562.9 932 1559.9 932.8 1557.2 934.6C1554.5 936.4 1551.8 939.6 1550 942.7C1548.2 945.9 1547 949.7 1546.4 953.6C1545.8 957.5 1545.8 962 1546.4 966.2C1547 970.4 1547.9 975.3 1550 978.9C1552.1 982.5 1555.4 985.7 1559 987.9C1562.6 990.2 1567.4 991.8 1571.7 992.4C1575.9 993 1580.4 992.9 1584.3 991.5C1588.2 990.2 1592.1 987.3 1595.2 984.3C1598.2 981.3 1600.9 977.4 1602.4 973.5C1603.9 969.5 1604.8 964.7 1604.2 960.8C1603.6 956.9 1601.5 953.3 1598.8 950C1596.1 946.7 1591.5 943.6 1587.9 940.9C1584.3 938.2 1580.7 935.2 1577.1 933.7C1573.5 932.2 1569.6 931.7 1566.2 931.9Z" fill="none" stroke="#808080" stroke-width="3.1" stroke-linejoin="round"/>
<path d="M1569.9 957.2C1567.4 957.8 1564.7 959.3 1563.5 961.7C1562.3 964.1 1562.3 968.5 1562.6 971.6C1562.9 974.8 1563.8 978.9 1565.3 980.7C1566.8 982.5 1569.7 982.9 1571.7 982.5C1573.6 982 1575.4 980.1 1577.1 978C1578.7 975.9 1580.7 972.4 1581.6 969.8C1582.5 967.3 1583.1 964.6 1582.5 962.6C1581.9 960.7 1580.1 959 1578 958.1C1575.9 957.2 1572.3 956.6 1569.9 957.2Z" fill="none" stroke="#808080" stroke-width="3.1" stroke-linejoin="round"/>
<path d="M1538.5 628.2V998.7" stroke="#000" stroke-width="3.1" stroke-dasharray="12 4.75" stroke-dashoffset="7.6" fill="none"/>
</g>
<path d="M1164 627.5V999.5" stroke="#000" stroke-width="2.0"/>
<path d="M1725.8 627.5V999.5" stroke="#000" stroke-width="1.6"/>
<path d="M1163 628.2H1726.4" stroke="#000" stroke-width="1.5"/>
<path d="M1163 998.7H1726.4" stroke="#000" stroke-width="1.5"/>
<path d="M1156.2 628.2h7.8M1156.2 720.8h7.8M1156.2 813.5h7.8M1156.2 906.1h7.8M1156.2 998.7h7.8M1164 998.7v7.8M1351.3 998.7v7.8M1538.5 998.7v7.8M1725.8 998.7v7.8" stroke="#000" stroke-width="1.9" fill="none"/>
<text class="ts" x="1149" y="637.2" font-size="26.3" text-anchor="end">200</text>
<text class="ts" x="1149" y="729.8" font-size="26.3" text-anchor="end">400</text>
<text class="ts" x="1149" y="822.5" font-size="26.3" text-anchor="end">600</text>
<text class="ts" x="1149" y="915.1" font-size="26.3" text-anchor="end">800</text>
<text class="ts" x="1149" y="1007.7" font-size="26.3" text-anchor="end">1000</text>
<text class="ts" font-size="25.3" text-anchor="middle" transform="translate(1068 815.2) rotate(-90)">hPa</text>
<text class="ts" font-size="45.5" text-anchor="middle" transform="translate(1444.3 615.8) scale(1.024 1)">(f) 16 November</text>
</g>
<g id="pg">
<clipPath id="cg"><rect x="1164" y="1073.3" width="561.8" height="370.5"/></clipPath>
<g clip-path="url(#cg)">
<path d="M1531.9 1234.8L1535.9 1234.4L1538.9 1235.5L1541.5 1237.5L1556.9 1255.5L1560.4 1261.6L1561.5 1267.6L1561.3 1285.6L1559.9 1290.1L1557.9 1292.5L1555.9 1293.8L1553.9 1294.4L1549.9 1294.2L1545.9 1291.9L1536.7 1279.6L1532.2 1271.6L1530.7 1265.6L1527 1243.5L1527.9 1238.6L1529.9 1236ZM1288 1249.4L1294 1249.7L1298 1251.1L1302 1253.6L1305.6 1257.5L1307.6 1261.6L1308.8 1267.6L1308.5 1271.6L1306.5 1277.6L1294 1301.7L1291.4 1305.6L1288 1309.2L1270 1323.6L1266 1326.3L1260 1327.9L1254 1326.9L1249 1323.6L1247.4 1321.6L1245.5 1317.6L1245 1311.6L1246.8 1305.6L1257.2 1283.6L1274 1258L1276 1255.5L1280 1252.2L1284 1250.3ZM1411.9 1331.4L1417.9 1330.7L1423.9 1332.1L1429 1335.7L1432 1339.7L1435.3 1347.7L1439.1 1361.7L1439.1 1369.7L1437.2 1375.7L1433.1 1381.7L1428.5 1385.7L1421.9 1389.2L1415.9 1390.9L1405.9 1391.9L1395.9 1391.4L1387.9 1390.1L1381.9 1387.9L1378.7 1385.7L1377 1383.7L1375.8 1379.7L1376.6 1375.7L1379.2 1369.7L1381.9 1359.7L1383.7 1355.7L1388 1349.7L1401.3 1337.7L1406.7 1333.7Z" fill="#aaaaff"/>
<path d="M1409.9 1351.3L1413.9 1350.6L1415.9 1350.9L1417.9 1352.1L1419.9 1354.3L1422 1357.7L1423.4 1361.7L1423.9 1365.7L1423.1 1369.7L1419.9 1374.3L1413.9 1377.8L1409.9 1378.8L1403.9 1379.3L1397.9 1378.2L1396 1375.7L1395.8 1373.7L1396.3 1365.7L1397.6 1361.7L1401.9 1356.2L1405.9 1353.3Z" fill="#8080ff"/>
<path d="M1405.9 1107L1411.9 1105.8L1419.9 1105.8L1427.9 1107.6L1433.9 1110.3L1438.2 1113.4L1442.2 1117.4L1445 1121.4L1449.8 1131.4L1453.4 1135.4L1459.9 1139.9L1469.9 1144.3L1475.9 1146.2L1479.9 1146.5L1501.9 1143.2L1505.9 1143.4L1507.9 1144.1L1510 1145.4L1512.9 1149.4L1513.6 1153.4L1512.6 1157.4L1509.9 1160.7L1505.9 1163L1483.9 1170.5L1477.9 1171.7L1471.9 1170.6L1455.9 1164L1437.9 1158.5L1433.9 1158.1L1421.9 1160.7L1415.9 1161.1L1407.9 1160.2L1400 1157.4L1393.8 1153.4L1387.9 1146.8L1384.7 1139.4L1384 1131.4L1384.7 1127.4L1386.1 1123.4L1389.9 1117.2L1396.5 1111.4L1401.9 1108.4ZM1645.8 1147L1653.8 1145.7L1661.8 1146.1L1669.8 1148L1677.8 1152.1L1683.7 1157.4L1687.3 1163.4L1688.9 1169.4L1688.6 1175.4L1686.5 1181.4L1682.2 1187.5L1675.8 1193L1668.5 1197.5L1657.8 1202.1L1649.8 1204.3L1641.8 1205.2L1633.8 1204.4L1626.2 1201.5L1621.1 1197.5L1619.6 1195.5L1617.9 1191.5L1617.3 1187.5L1617.7 1183.4L1622.8 1167.4L1624.7 1163.4L1627.8 1158.5L1631.8 1154.3L1635.8 1151.3L1639.8 1149.2ZM1445.9 1231.2L1449.9 1230.3L1453.9 1230.5L1457.9 1231.8L1461.9 1234.4L1479.4 1255.5L1483.4 1261.6L1486.4 1269.6L1493.7 1293.6L1493.7 1297.6L1492.4 1301.6L1489.9 1304.8L1487.9 1306.3L1483.9 1307.7L1479.9 1307.7L1475.9 1306.3L1472.5 1303.6L1452.1 1279.6L1439.1 1257.5L1435.6 1249.5L1435.3 1245.5L1436 1241.5L1437.8 1237.5L1439.9 1235L1441.9 1233.3ZM1483.9 1353.1L1487.9 1352.9L1493.9 1354.9L1553.9 1384.7L1561.9 1389.8L1565.4 1393.7L1568.6 1399.7L1573.5 1419.8L1574 1423.8L1573.7 1427.8L1572.3 1431.8L1569.9 1435L1567.9 1436.7L1563.9 1438.8L1559.9 1439.4L1555.9 1439L1549.9 1436.4L1537.9 1429.6L1529.9 1424L1504.4 1395.7L1481.9 1374.2L1478 1369.7L1476.3 1365.7L1476.1 1361.7L1476.7 1359.7L1479.3 1355.7Z" fill="#ffaaaa"/>
<path d="M1653.8 1163.3L1659.8 1163.6L1663.8 1165.6L1666.6 1169.4L1667.1 1171.4L1666.4 1175.4L1663.4 1179.4L1657.8 1183.2L1651.8 1185.2L1647.8 1185.5L1645.8 1185.1L1643.4 1183.4L1641.9 1179.4L1642.1 1175.4L1643.4 1171.4L1645.8 1167.5L1647.8 1165.7ZM1521.9 1389.6L1523.9 1388L1525.9 1387.8L1531.9 1388.9L1545.9 1394L1553.9 1398.3L1555.9 1400.5L1557.6 1403.7L1559.2 1409.8L1560.5 1419.8L1560.3 1421.8L1559.2 1423.8L1557.9 1424.6L1555.9 1424.7L1551.9 1423.6L1543.9 1419.7L1538.1 1415.8L1532.9 1409.8L1525.6 1399.7L1522.4 1393.7L1521.8 1391.7Z" fill="#ff8080"/>
<path d="M1374.3 1443.8L1375.6 1441L1378.5 1438.1L1381.9 1434.8L1388.5 1431.7L1396 1428.5L1402.7 1425.6L1409.4 1421.9L1416.9 1420L1424.4 1417.9L1427.7 1416.2L1430.6 1415.6L1434.4 1416.7L1441.9 1418.9L1446.1 1421.9L1451.1 1425L1458.6 1428.4L1463.6 1429L1470.3 1430.6L1477.8 1431.7L1484.4 1434.8L1491.1 1439L1494.4 1441.5L1497.8 1443.8" fill="#000"/>
<path d="M1541 1446.7C1538.1 1444 1529.1 1436.1 1523.5 1430.8C1518 1425.5 1513.5 1420.2 1507.6 1414.9C1501.8 1409.6 1494.6 1404 1488.5 1399C1482.5 1393.9 1476.6 1389.4 1471.1 1384.7C1465.5 1379.9 1459.1 1375.1 1455.2 1370.3C1451.2 1365.6 1448.8 1361.3 1447.2 1356C1445.6 1350.7 1445.7 1344.4 1445.6 1338.5C1445.5 1332.7 1446.3 1326.4 1446.4 1321.1C1446.5 1315.8 1447.1 1311 1446.4 1306.7C1445.7 1302.5 1444.2 1299.3 1442.4 1295.6C1440.7 1291.9 1438.5 1287.5 1436.1 1284.5C1433.7 1281.4 1430.8 1278.8 1428.1 1277.3C1425.5 1275.9 1423.1 1275.3 1420.2 1275.7C1417.3 1276.1 1414.1 1278.1 1410.6 1279.7C1407.2 1281.3 1403.5 1283.4 1399.5 1285.3C1395.5 1287.1 1391 1289.4 1386.8 1290.8C1382.5 1292.3 1378.3 1293.6 1374.1 1294C1369.8 1294.4 1365.3 1294.3 1361.3 1293.2C1357.4 1292.2 1353.4 1290.2 1350.2 1287.7C1347 1285.1 1344.4 1281.8 1342.3 1278.1C1340.1 1274.4 1338.6 1269.9 1337.5 1265.4C1336.4 1260.9 1335.6 1255.9 1335.9 1251.1C1336.2 1246.3 1337.2 1241 1339.1 1236.8C1340.9 1232.5 1343.6 1228.7 1347 1225.7C1350.5 1222.6 1355.2 1220.1 1359.8 1218.5C1364.3 1216.9 1369 1216.4 1374.1 1216.1C1379.1 1215.8 1384.9 1216.5 1390 1216.9C1395 1217.3 1399.5 1218.6 1404.3 1218.5C1409 1218.4 1414.1 1217.6 1418.6 1216.1C1423.1 1214.7 1427.1 1212.1 1431.3 1209.8C1435.5 1207.4 1440.1 1204.5 1444 1201.8C1448 1199.2 1451.7 1196.2 1455.2 1193.9C1458.6 1191.5 1461.8 1188.8 1464.7 1187.5C1467.6 1186.2 1470 1185.6 1472.6 1185.9C1475.3 1186.2 1478.2 1187 1480.6 1189.1C1483 1191.2 1484.8 1194.6 1487 1198.6C1489.1 1202.6 1490.9 1207.6 1493.3 1212.9C1495.7 1218.2 1498.6 1224.3 1501.3 1230.4C1503.9 1236.5 1506.6 1243.1 1509.2 1249.5C1511.9 1255.9 1514.5 1262.5 1517.2 1268.6C1519.8 1274.7 1522.5 1280.5 1525.1 1286.1C1527.8 1291.6 1530.4 1296.9 1533.1 1302C1535.7 1307 1538.4 1311.5 1541 1316.3C1543.7 1321.1 1546.3 1325.8 1549 1330.6C1551.6 1335.4 1554.3 1340.7 1556.9 1344.9C1559.6 1349.1 1562 1352.6 1564.9 1356C1567.8 1359.5 1571.2 1362.4 1574.4 1365.6C1577.6 1368.8 1581 1372.2 1584 1375.1C1586.9 1378 1589.9 1380.2 1591.9 1383.1C1593.9 1386 1595.6 1389.2 1595.9 1392.6C1596.1 1396.1 1594.6 1400 1593.5 1403.7C1592.4 1407.5 1590.4 1410.9 1589.5 1414.9C1588.6 1418.8 1588.3 1422.3 1587.9 1427.6C1587.5 1432.9 1587.3 1443.5 1587.1 1446.7" fill="none" stroke="#808080" stroke-width="3.1" stroke-linejoin="round"/>
<path d="M1549 1441.1C1545.8 1440.4 1544.7 1440.4 1541 1438.7C1537.3 1437 1531.7 1434.4 1526.7 1430.8C1521.7 1427.2 1516.4 1422 1510.8 1417.3C1505.2 1412.5 1499.1 1407.1 1493.3 1402.2C1487.5 1397.2 1481.1 1392.6 1475.8 1387.8C1470.5 1383.1 1465.1 1378.3 1461.5 1373.5C1457.9 1368.8 1455.8 1364.5 1454.4 1359.2C1452.9 1353.9 1452.6 1347.6 1452.8 1341.7C1452.9 1335.9 1454.5 1329.5 1455.2 1324.2C1455.8 1318.9 1456.9 1314.7 1456.7 1309.9C1456.6 1305.2 1455.6 1300.7 1454.4 1295.6C1453.2 1290.6 1451.2 1285 1449.6 1279.7C1448 1274.4 1446 1268.6 1444.8 1263.8C1443.6 1259 1442.2 1255.3 1442.4 1251.1C1442.7 1246.9 1444.3 1242.1 1446.4 1238.4C1448.5 1234.7 1451.8 1231.2 1455.2 1228.8C1458.5 1226.4 1462.8 1224.9 1466.3 1224.1C1469.7 1223.3 1472.9 1223.3 1475.8 1224.1C1478.7 1224.9 1481.1 1226.2 1483.8 1228.8C1486.4 1231.5 1489.1 1235.5 1491.7 1240C1494.4 1244.5 1497 1250.3 1499.7 1255.9C1502.3 1261.4 1505 1267.3 1507.6 1273.4C1510.3 1279.5 1512.9 1286.3 1515.6 1292.4C1518.2 1298.5 1520.9 1304.4 1523.5 1309.9C1526.2 1315.5 1528.8 1320.8 1531.5 1325.8C1534.1 1330.9 1536.8 1335.6 1539.4 1340.1C1542.1 1344.6 1544.5 1348.6 1547.4 1352.9C1550.3 1357.1 1553.7 1361.6 1556.9 1365.6C1560.1 1369.6 1563.5 1373 1566.5 1376.7C1569.4 1380.4 1572.3 1383.9 1574.4 1387.8C1576.5 1391.8 1578.3 1396.3 1579.2 1400.6C1580.1 1404.8 1580.2 1408.8 1580 1413.3C1579.7 1417.8 1579.1 1423.4 1577.6 1427.6C1576.1 1431.8 1574.1 1436.2 1571.2 1438.7C1568.3 1441.2 1563.8 1442.3 1560.1 1442.7C1556.4 1443.1 1552.2 1441.8 1549 1441.1Z" fill="none" stroke="#808080" stroke-width="3.1" stroke-linejoin="round"/>
<path d="M1462.3 1267C1462.2 1271.2 1463.2 1276.3 1463.9 1281.3C1464.6 1286.3 1465.5 1291.9 1466.3 1297.2C1467.1 1302.5 1468.7 1307.8 1468.7 1313.1C1468.7 1318.4 1467.2 1323.7 1466.3 1329C1465.4 1334.3 1463.6 1339.6 1463.1 1344.9C1462.6 1350.2 1462.3 1355.8 1463.1 1360.8C1463.9 1365.8 1465 1370.3 1467.9 1375.1C1470.8 1379.9 1475.6 1384.7 1480.6 1389.4C1485.6 1394.2 1492.3 1398.7 1498.1 1403.7C1503.9 1408.8 1510 1415.1 1515.6 1419.6C1521.1 1424.1 1526.4 1427.9 1531.5 1430.8C1536.5 1433.7 1541.3 1436.1 1545.8 1437.1C1550.3 1438.2 1554.8 1438.2 1558.5 1437.1C1562.2 1436.1 1565.8 1434 1568.1 1430.8C1570.3 1427.6 1571.8 1422.6 1572 1418.1C1572.3 1413.5 1571.1 1408.2 1569.6 1403.7C1568.2 1399.2 1565.9 1395 1563.3 1391C1560.6 1387 1557.2 1383.9 1553.7 1379.9C1550.3 1375.9 1546.1 1371.4 1542.6 1367.2C1539.2 1362.9 1536.3 1359 1533.1 1354.4C1529.9 1349.9 1526.7 1345.4 1523.5 1340.1C1520.3 1334.8 1516.9 1328.5 1514 1322.6C1511.1 1316.8 1508.7 1311.3 1506 1305.2C1503.4 1299.1 1500.5 1291.9 1498.1 1286.1C1495.7 1280.2 1493.8 1274.9 1491.7 1270.2C1489.6 1265.4 1487.5 1260.8 1485.4 1257.5C1483.2 1254.1 1481.4 1251.6 1479 1250.3C1476.6 1249 1473.4 1248.6 1471.1 1249.5C1468.7 1250.4 1466.2 1252.9 1464.7 1255.9C1463.2 1258.8 1462.4 1262.8 1462.3 1267Z" fill="none" stroke="#808080" stroke-width="3.1" stroke-linejoin="round"/>
<path d="M1489.3 1309.9C1488.2 1310.6 1486.6 1311.8 1485.4 1314.7C1484.2 1317.6 1483.5 1322.9 1482.2 1327.4C1480.9 1331.9 1478.7 1337 1477.4 1341.7C1476.1 1346.5 1474.2 1352.1 1474.2 1356C1474.2 1360 1475.3 1362.4 1477.4 1365.6C1479.5 1368.8 1483.2 1371.7 1487 1375.1C1490.7 1378.6 1495.2 1382.3 1499.7 1386.3C1504.2 1390.2 1509.2 1394.7 1514 1399C1518.8 1403.2 1523.8 1407.7 1528.3 1411.7C1532.8 1415.7 1537.3 1420.2 1541 1422.8C1544.7 1425.5 1547.6 1426.9 1550.6 1427.6C1553.5 1428.3 1556.4 1427.9 1558.5 1426.8C1560.6 1425.7 1562.5 1424 1563.3 1421.2C1564.1 1418.4 1564.1 1413.8 1563.3 1410.1C1562.5 1406.4 1560.9 1402.7 1558.5 1399C1556.1 1395.3 1552.4 1391.6 1549 1387.8C1545.5 1384.1 1541.6 1380.2 1537.8 1376.7C1534.1 1373.3 1530.2 1370.3 1526.7 1367.2C1523.3 1364 1520.1 1361.3 1517.2 1357.6C1514.3 1353.9 1511.6 1349.4 1509.2 1344.9C1506.8 1340.4 1505 1335.1 1502.9 1330.6C1500.7 1326.1 1498.2 1321.2 1496.5 1317.9C1494.8 1314.6 1493.7 1312 1492.5 1310.7C1491.3 1309.4 1490.5 1309.3 1489.3 1309.9Z" fill="none" stroke="#808080" stroke-width="3.1" stroke-linejoin="round"/>
<path d="M1362.9 1251.1C1362.9 1249.8 1364.3 1248.6 1366.1 1247.9C1368 1247.2 1371.4 1246.7 1374.1 1246.8C1376.7 1246.9 1379.9 1247.9 1382 1248.7C1384.1 1249.5 1386.5 1250 1386.8 1251.4C1387 1252.9 1385.2 1255.8 1383.6 1257.5C1382 1259.1 1379.4 1261 1377.2 1261.4C1375.1 1261.8 1372.7 1260.8 1370.9 1259.8C1369 1258.9 1367.4 1257.3 1366.1 1255.9C1364.8 1254.4 1362.9 1252.4 1362.9 1251.1Z" fill="none" stroke="#808080" stroke-width="3.1" stroke-linejoin="round"/>
<path d="M1538.5 1073.3V1443.8" stroke="#000" stroke-width="3.1" stroke-dasharray="12 4.75" stroke-dashoffset="7.6" fill="none"/>
</g>
<path d="M1164 1072.5V1444.5" stroke="#000" stroke-width="2.0"/>
<path d="M1725.8 1072.5V1444.5" stroke="#000" stroke-width="1.6"/>
<path d="M1163 1073.3H1726.4" stroke="#000" stroke-width="1.5"/>
<path d="M1163 1443.8H1726.4" stroke="#000" stroke-width="1.5"/>
<path d="M1156.2 1073.3h7.8M1156.2 1165.9h7.8M1156.2 1258.5h7.8M1156.2 1351.2h7.8M1156.2 1443.8h7.8M1164 1443.8v7.8M1351.3 1443.8v7.8M1538.5 1443.8v7.8M1725.8 1443.8v7.8" stroke="#000" stroke-width="1.9" fill="none"/>
<text class="ts" x="1149" y="1082.3" font-size="26.3" text-anchor="end">200</text>
<text class="ts" x="1149" y="1174.9" font-size="26.3" text-anchor="end">400</text>
<text class="ts" x="1149" y="1267.5" font-size="26.3" text-anchor="end">600</text>
<text class="ts" x="1149" y="1360.2" font-size="26.3" text-anchor="end">800</text>
<text class="ts" x="1149" y="1452.8" font-size="26.3" text-anchor="end">1000</text>
<text class="ts" font-size="25.3" text-anchor="middle" transform="translate(1068 1260.3) rotate(-90)">hPa</text>
<text class="ts" font-size="45.5" text-anchor="middle" transform="translate(1444.3 1060.9) scale(1.024 1)">(g) 17 November</text>
</g>
<g id="ph">
<clipPath id="ch"><rect x="1164" y="1518.5" width="561.8" height="370.5"/></clipPath>
<g clip-path="url(#ch)">
<path d="M1166 1647.3L1174 1649.7L1202 1660.1L1224 1666L1230 1668.2L1234 1670.9L1237 1674.7L1238.7 1678.7L1239.3 1682.7L1238.4 1688.7L1234.7 1694.7L1212 1714.3L1180 1735.8L1172 1739.6L1164 1741.5L1164 1647.1ZM1321.9 1788.4L1325.9 1787.7L1331.9 1787.5L1337.9 1788.3L1341.9 1789.6L1345.9 1791.4L1349.9 1794.1L1352.9 1796.9L1355.8 1800.9L1357.7 1804.9L1358.6 1808.9L1358.7 1812.9L1358 1816.9L1356.5 1820.9L1353.9 1824.9L1349.9 1828.9L1345.9 1831.6L1339.9 1834.1L1333.9 1835.4L1327.9 1835.5L1321.9 1834.6L1315.9 1832.4L1310.4 1828.9L1306.4 1824.9L1303.8 1820.9L1302.2 1816.9L1301.5 1810.9L1302.6 1804.9L1304.4 1800.9L1307.4 1796.9L1311.9 1792.9L1315.9 1790.6Z" fill="#aaaaff"/>
<path d="M1323.9 1800.5L1327.9 1799.5L1333.9 1799.8L1337.9 1801.3L1342.2 1804.9L1344.2 1808.9L1344.5 1812.9L1343.1 1816.9L1339.9 1820.4L1333.9 1823.2L1327.9 1823.5L1321.9 1821.5L1318.7 1818.9L1316.3 1814.9L1315.8 1812.9L1316 1808.9L1318 1804.9L1320 1802.9Z" fill="#8080ff"/>
<path d="M1533.9 1690.1L1541.9 1689.1L1547.9 1689.8L1551.9 1690.8L1559.9 1694.6L1567.9 1700.7L1575.9 1709.7L1582.6 1720.8L1587.6 1732.8L1590.8 1744.8L1592.5 1758.8L1592.3 1770.8L1590.5 1782.9L1587.4 1792.9L1582.2 1802.9L1575.9 1810.5L1567.9 1816.3L1559.9 1819.1L1551.9 1819.7L1543.9 1818.3L1501.9 1801.8L1493.9 1797L1489.3 1792.9L1485.2 1786.9L1483 1780.9L1482.6 1772.8L1484.7 1764.8L1487.9 1758.8L1496.3 1746.8L1499.7 1740.8L1502.1 1734.8L1507.2 1718.8L1511.7 1708.8L1515.9 1702.6L1521.9 1696.4L1527.9 1692.5Z" fill="#ffaaaa"/>
<path d="M1541.9 1734.6L1545.9 1733.8L1549.9 1734.7L1553.9 1737.3L1557.9 1742.2L1560.7 1748.8L1561.9 1754.8L1561.9 1760.8L1560.6 1766.8L1558.7 1770.8L1555.9 1774.5L1552.6 1776.8L1549.9 1778.1L1545.9 1779L1539.9 1779.2L1533.9 1778.5L1526.9 1776.8L1523 1774.8L1521.5 1772.8L1521.1 1770.8L1522 1766.8L1533.9 1742.6L1537.9 1737.2Z" fill="#ff8080"/>
<path d="M1374.3 1889L1375.6 1886.2L1378.5 1883.3L1381.9 1880L1388.5 1876.9L1396 1873.7L1402.7 1870.8L1409.4 1867.1L1416.9 1865.2L1424.4 1863.1L1427.7 1861.4L1430.6 1860.8L1434.4 1861.9L1441.9 1864.1L1446.1 1867.1L1451.1 1870.2L1458.6 1873.6L1463.6 1874.2L1470.3 1875.8L1477.8 1876.9L1484.4 1880L1491.1 1884.2L1494.4 1886.7L1497.8 1889" fill="#000"/>
<path d="M1500.9 1651.8C1496.6 1651.5 1492.3 1652.3 1489.2 1654.7C1486.2 1657.2 1483.5 1661.5 1482.8 1666.4C1482 1671.3 1484 1678.6 1484.8 1684C1485.7 1689.4 1487.5 1693.3 1487.8 1698.7C1488 1704 1488 1710.9 1486.3 1716.2C1484.6 1721.6 1481.4 1726.5 1477.5 1730.9C1473.6 1735.3 1467.7 1738.2 1462.9 1742.6C1458 1747 1453.1 1751.9 1448.2 1757.3C1443.3 1762.6 1438.9 1769 1433.6 1774.8C1428.2 1780.7 1421.8 1786.6 1416 1792.4C1410.1 1798.3 1403 1805.1 1398.4 1810C1393.8 1814.9 1389.9 1818.9 1388.1 1821.7C1386.4 1824.5 1386.4 1826.3 1388.1 1827C1389.9 1827.7 1394.2 1827.2 1398.4 1826.1C1402.5 1825 1408.2 1822.4 1413 1820.3C1417.9 1818.2 1422.3 1815.1 1427.7 1813.5C1433.1 1812 1439.9 1810.7 1445.3 1810.9C1450.6 1811 1456 1812.1 1459.9 1814.4C1463.8 1816.7 1466.3 1821 1468.7 1824.6C1471.2 1828.3 1471.6 1832.7 1474.6 1836.4C1477.5 1840 1481.4 1843.2 1486.3 1846.6C1491.2 1850 1497.5 1853.2 1503.9 1856.9C1510.2 1860.5 1518 1865.2 1524.4 1868.6C1530.7 1872 1536.1 1875.3 1542 1877.4C1547.8 1879.5 1554.2 1880.8 1559.5 1881.2C1564.9 1881.6 1571.4 1881.1 1574.2 1879.7C1577 1878.4 1577.5 1876.3 1576.5 1873C1575.6 1869.7 1571.2 1864.9 1568.3 1859.8C1565.5 1854.7 1561.7 1848.6 1559.5 1842.2C1557.3 1835.9 1555.6 1828.6 1555.2 1821.7C1554.7 1814.9 1555.4 1808 1556.6 1801.2C1557.8 1794.4 1560.3 1787.5 1562.5 1780.7C1564.7 1773.9 1568.6 1767 1569.8 1760.2C1571 1753.4 1571 1746.5 1569.8 1739.7C1568.6 1732.8 1565.7 1725.5 1562.5 1719.2C1559.3 1712.8 1554.7 1707.4 1550.8 1701.6C1546.8 1695.7 1542.9 1689.9 1539 1684C1535.1 1678.1 1531.2 1671.1 1527.3 1666.4C1523.4 1661.8 1520 1658.6 1515.6 1656.2C1511.2 1653.7 1505.3 1652 1500.9 1651.8Z" fill="none" stroke="#808080" stroke-width="3.1" stroke-linejoin="round"/>
<path d="M1522.9 1720.6C1519 1720.1 1515.8 1723.3 1512.7 1726.5C1509.5 1729.7 1507.3 1735.5 1503.9 1739.7C1500.5 1743.8 1496.3 1748 1492.2 1751.4C1488 1754.8 1482.4 1756.3 1479 1760.2C1475.6 1764.1 1473.4 1769.5 1471.6 1774.8C1469.9 1780.2 1468.2 1788 1468.7 1792.4C1469.2 1796.8 1471.6 1798.3 1474.6 1801.2C1477.5 1804.1 1483.1 1806.6 1486.3 1810C1489.5 1813.4 1492.6 1817.3 1493.6 1821.7C1494.6 1826.1 1491.4 1832.5 1492.2 1836.4C1492.9 1840.3 1494.6 1842.2 1498 1845.2C1501.4 1848.1 1507.8 1851 1512.7 1853.9C1517.6 1856.9 1522.9 1860.5 1527.3 1862.7C1531.7 1865 1535.6 1866.9 1539 1867.4C1542.5 1867.9 1546.8 1867.9 1547.8 1865.7C1548.8 1863.4 1546.4 1858.3 1544.9 1853.9C1543.4 1849.6 1540.5 1844.7 1539 1839.3C1537.6 1833.9 1536.1 1828.1 1536.1 1821.7C1536.1 1815.4 1537.6 1808 1539 1801.2C1540.5 1794.4 1543.2 1787 1544.9 1780.7C1546.6 1774.3 1549 1769 1549.3 1763.1C1549.5 1757.3 1548.6 1751.2 1546.4 1745.5C1544.2 1739.9 1540 1733.6 1536.1 1729.4C1532.2 1725.3 1526.8 1721.1 1522.9 1720.6Z" fill="none" stroke="#808080" stroke-width="3.1" stroke-linejoin="round"/>
<path d="M1321.6 1710.4C1320.7 1707.7 1327.5 1704 1331 1701.6C1334.5 1699.1 1338.3 1696.9 1342.7 1695.7C1347.1 1694.5 1353 1693.8 1357.4 1694.3C1361.8 1694.8 1365.9 1696 1369.1 1698.7C1372.3 1701.3 1376.9 1707.4 1376.4 1710.4C1375.9 1713.3 1370.3 1714.8 1366.2 1716.2C1362 1717.7 1356.4 1718.9 1351.5 1719.2C1346.6 1719.4 1341.8 1719.2 1336.9 1717.7C1331.9 1716.2 1322.6 1713.1 1321.6 1710.4Z" fill="none" stroke="#808080" stroke-width="3.1" stroke-linejoin="round"/>
<path d="M1276.8 1848.1C1277.3 1846.4 1278.5 1843.9 1281.2 1843.7C1283.9 1843.4 1288 1844.7 1292.9 1846.6C1297.8 1848.6 1305.6 1853 1310.5 1855.4C1315.4 1857.9 1320 1859.3 1322.2 1861.3C1324.4 1863.2 1324.7 1865.7 1323.7 1867.1C1322.7 1868.6 1319.5 1870.1 1316.4 1870.1C1313.2 1870.1 1309 1868.8 1304.6 1867.1C1300.2 1865.4 1294.4 1862 1290 1859.8C1285.6 1857.6 1280.5 1855.9 1278.3 1853.9C1276.1 1852 1276.3 1849.8 1276.8 1848.1Z" fill="none" stroke="#808080" stroke-width="3.1" stroke-linejoin="round"/>
<path d="M1538.5 1518.5V1889" stroke="#000" stroke-width="3.1" stroke-dasharray="12 4.75" stroke-dashoffset="7.6" fill="none"/>
</g>
<path d="M1164 1517.9V1890" stroke="#000" stroke-width="2.0"/>
<path d="M1725.8 1517.9V1890" stroke="#000" stroke-width="1.6"/>
<path d="M1163 1518.5H1726.4" stroke="#000" stroke-width="1.2"/>
<path d="M1163 1889H1726.4" stroke="#000" stroke-width="2.0"/>
<path d="M1156.2 1518.5h7.8M1156.2 1611.1h7.8M1156.2 1703.8h7.8M1156.2 1796.4h7.8M1156.2 1889h7.8M1164 1889v7.8M1351.3 1889v7.8M1538.5 1889v7.8M1725.8 1889v7.8" stroke="#000" stroke-width="1.9" fill="none"/>
<text class="ts" x="1149" y="1527.5" font-size="26.3" text-anchor="end">200</text>
<text class="ts" x="1149" y="1620.1" font-size="26.3" text-anchor="end">400</text>
<text class="ts" x="1149" y="1712.8" font-size="26.3" text-anchor="end">600</text>
<text class="ts" x="1149" y="1805.4" font-size="26.3" text-anchor="end">800</text>
<text class="ts" x="1149" y="1898" font-size="26.3" text-anchor="end">1000</text>
<text class="ts" x="1165" y="1923.4" font-size="26.3" text-anchor="middle">70</text>
<text class="ts" x="1352.3" y="1923.4" font-size="26.3" text-anchor="middle">75</text>
<text class="ts" x="1539.5" y="1923.4" font-size="26.3" text-anchor="middle">80</text>
<text class="ts" x="1726.8" y="1923.4" font-size="26.3" text-anchor="middle">85</text>
<text class="ts" x="1444.9" y="1957.8" font-size="25.6" text-anchor="middle">Longitude (<tspan class="tn" font-size="17.7" dx="6" dy="-5.6">°</tspan><tspan dx="-3" dy="5.6"> E)</tspan></text>
<text class="ts" font-size="25.3" text-anchor="middle" transform="translate(1068 1705.5) rotate(-90)">hPa</text>
<text class="ts" font-size="45.5" text-anchor="middle" transform="translate(1444.3 1506.1) scale(1.024 1)">(h) 18 November</text>
</g>
<g id="cb1">
<path d="M742.6 540.5L762.1 489.4L781.6 540.5Z" fill="#0000ff"/>
<path d="M742.6 1566.8L762.1 1617.9L781.6 1566.8Z" fill="#ff0000"/>
<rect x="742.6" y="540" width="39" height="64.6" fill="#0000ff"/>
<rect x="742.6" y="604.2" width="39" height="64.6" fill="#2020ff"/>
<rect x="742.6" y="668.4" width="39" height="64.6" fill="#4040ff"/>
<rect x="742.6" y="732.6" width="39" height="64.6" fill="#6060ff"/>
<rect x="742.6" y="796.8" width="39" height="64.6" fill="#8080ff"/>
<rect x="742.6" y="861" width="39" height="64.6" fill="#a0a0ff"/>
<rect x="742.6" y="925.2" width="39" height="64.6" fill="#c0c0ff"/>
<rect x="742.6" y="1117.9" width="39" height="64.6" fill="#ffc0c0"/>
<rect x="742.6" y="1182.1" width="39" height="64.6" fill="#ffa0a0"/>
<rect x="742.6" y="1246.3" width="39" height="64.6" fill="#ff8080"/>
<rect x="742.6" y="1310.5" width="39" height="64.6" fill="#ff6060"/>
<rect x="742.6" y="1374.7" width="39" height="64.6" fill="#ff4040"/>
<rect x="742.6" y="1438.9" width="39" height="64.6" fill="#ff2020"/>
<rect x="742.6" y="1503.1" width="39" height="64.6" fill="#ff0000"/>
<path d="M742.6 540L762.1 489.4L781.6 540V1567.3L762.1 1617.9L742.6 1567.3Z" fill="none" stroke="#000" stroke-width="1.6" stroke-linejoin="miter"/>
<text class="ts" x="796" y="554.6" font-size="38.8">20</text>
<text class="ts" x="796" y="683" font-size="38.8">10</text>
<text class="ts" x="796" y="811.4" font-size="38.8">6</text>
<text class="ts" x="796" y="939.8" font-size="38.8">3</text>
<text class="ts" x="796" y="1068.2" font-size="38.8">0</text>
<text class="ts" x="796" y="1196.7" font-size="38.8">−3</text>
<text class="ts" x="796" y="1325.1" font-size="38.8">−6</text>
<text class="ts" x="796" y="1453.5" font-size="38.8">−10</text>
<text class="ts" x="796" y="1581.9" font-size="38.8">−20</text>
<path d="M781.6 540h8.2M781.6 668.4h8.2M781.6 796.8h8.2M781.6 925.2h8.2M781.6 1053.7h8.2M781.6 1182.1h8.2M781.6 1310.5h8.2M781.6 1438.9h8.2M781.6 1567.3h8.2" stroke="#000" stroke-width="1.6" fill="none"/>
<text class="ts" font-size="42.0" text-anchor="middle" transform="translate(925.3 1054) rotate(-90)">Daily <tspan class="tn" font-style="italic">ζ</tspan> tendency (<tspan class="tn">×</tspan> 10<tspan class="tn" font-size="70%" dy="-16">−5</tspan><tspan dy="16"> s</tspan><tspan class="tn" font-size="70%" dy="-16">−1</tspan><tspan dy="16">)</tspan></text>
</g>
<g id="cb2">
<path d="M1764.3 528.2L1783.8 477.7L1803.2 528.2Z" fill="#0000ff"/>
<path d="M1764.3 1555.2L1783.8 1605.7L1803.2 1555.2Z" fill="#ff0000"/>
<rect x="1764.3" y="527.7" width="38.9" height="86.1" fill="#0000ff"/>
<rect x="1764.3" y="613.4" width="38.9" height="86.1" fill="#2a2aff"/>
<rect x="1764.3" y="699" width="38.9" height="86.1" fill="#5555ff"/>
<rect x="1764.3" y="784.7" width="38.9" height="86.1" fill="#8080ff"/>
<rect x="1764.3" y="870.4" width="38.9" height="86.1" fill="#aaaaff"/>
<rect x="1764.3" y="1127.4" width="38.9" height="86.1" fill="#ffaaaa"/>
<rect x="1764.3" y="1213" width="38.9" height="86.1" fill="#ff8080"/>
<rect x="1764.3" y="1298.7" width="38.9" height="86.1" fill="#ff5555"/>
<rect x="1764.3" y="1384.4" width="38.9" height="86.1" fill="#ff2a2a"/>
<rect x="1764.3" y="1470" width="38.9" height="86.1" fill="#ff0000"/>
<path d="M1764.3 527.7L1783.8 477.7L1803.2 527.7V1555.7L1783.8 1605.7L1764.3 1555.7Z" fill="none" stroke="#000" stroke-width="1.2" stroke-linejoin="miter"/>
<text class="ts" x="1817.6" y="542.1" font-size="38.8">10</text>
<text class="ts" x="1817.6" y="713.4" font-size="38.8">6</text>
<text class="ts" x="1817.6" y="884.8" font-size="38.8">3</text>
<text class="ts" x="1817.6" y="1056.1" font-size="38.8">0</text>
<text class="ts" x="1817.6" y="1227.4" font-size="38.8">−3</text>
<text class="ts" x="1817.6" y="1398.8" font-size="38.8">−6</text>
<text class="ts" x="1817.6" y="1570.1" font-size="38.8">−10</text>
<path d="M1803.2 527.7h8.2M1803.2 699h8.2M1803.2 870.4h8.2M1803.2 1041.7h8.2M1803.2 1213h8.2M1803.2 1384.4h8.2M1803.2 1555.7h8.2" stroke="#000" stroke-width="1.2" fill="none"/>
<text class="ts" font-size="42.0" text-anchor="middle" transform="translate(1947.5 1042.4) rotate(-90)">Daily <tspan class="tn" font-style="italic">ζ</tspan> tendency (<tspan class="tn">×</tspan> 10<tspan class="tn" font-size="70%" dy="-16">−5</tspan><tspan dy="16"> s</tspan><tspan class="tn" font-size="70%" dy="-16">−1</tspan><tspan dy="16">)</tspan></text>
</g>
</svg></body></html>
